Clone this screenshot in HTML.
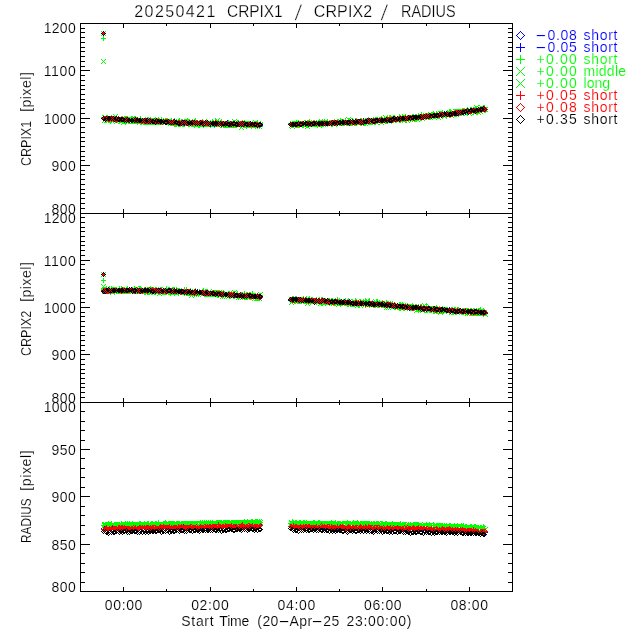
<!DOCTYPE html>
<html lang="en"><head><meta charset="utf-8"><title>20250421 CRPIX1 / CRPIX2 / RADIUS</title>
<style>
html,body{margin:0;padding:0;background:#fff}
body{width:640px;height:640px;position:relative;overflow:hidden;font-family:"Liberation Sans",sans-serif;color:#000}
svg{position:absolute;left:0;top:0;display:block}
.t{position:absolute;white-space:pre;line-height:1;margin:0;padding:0;-webkit-text-stroke:.15px #fff}
.t.r{transform-origin:0 0;transform:rotate(-90deg)}
.t.ra{transform:translateX(-100%)}
.t span{position:absolute;top:0;transform-origin:0 50%}
.t i{font-style:normal;display:inline-block;transform:scaleX(2.5);margin:0 .2em}
</style></head><body>
<svg width="640" height="640" viewBox="0 0 640 640" shape-rendering="crispEdges"><defs><marker id="bd" markerUnits="userSpaceOnUse" markerWidth="5" markerHeight="5" refX="2.5" refY="2.5"><path d="M2 0h1v1h-1zM1 1h1v1h-1zM3 1h1v1h-1zM0 2h1v1h-1zM4 2h1v1h-1zM1 3h1v1h-1zM3 3h1v1h-1zM2 4h1v1h-1z" fill="#0000ff"/></marker><marker id="bp" markerUnits="userSpaceOnUse" markerWidth="5" markerHeight="5" refX="2.5" refY="2.5"><path d="M0 2h5v1h-5zM2 0h1v5h-1z" fill="#0000ff"/></marker><marker id="gp" markerUnits="userSpaceOnUse" markerWidth="5" markerHeight="5" refX="2.5" refY="2.5"><path d="M0 2h5v1h-5zM2 0h1v5h-1z" fill="#00ff00"/></marker><marker id="gx" markerUnits="userSpaceOnUse" markerWidth="5" markerHeight="5" refX="2.5" refY="2.5"><path d="M0 0h1v1h-1zM1 1h1v1h-1zM2 2h1v1h-1zM3 3h1v1h-1zM4 4h1v1h-1zM4 0h1v1h-1zM3 1h1v1h-1zM1 3h1v1h-1zM0 4h1v1h-1z" fill="#00ff00"/></marker><marker id="rp" markerUnits="userSpaceOnUse" markerWidth="5" markerHeight="5" refX="2.5" refY="2.5"><path d="M0 2h5v1h-5zM2 0h1v5h-1z" fill="#ff0000"/></marker><marker id="rd" markerUnits="userSpaceOnUse" markerWidth="5" markerHeight="5" refX="2.5" refY="2.5"><path d="M2 0h1v1h-1zM1 1h1v1h-1zM3 1h1v1h-1zM0 2h1v1h-1zM4 2h1v1h-1zM1 3h1v1h-1zM3 3h1v1h-1zM2 4h1v1h-1z" fill="#ff0000"/></marker><marker id="kd" markerUnits="userSpaceOnUse" markerWidth="5" markerHeight="5" refX="2.5" refY="2.5"><path d="M2 0h1v1h-1zM1 1h1v1h-1zM3 1h1v1h-1zM0 2h1v1h-1zM4 2h1v1h-1zM1 3h1v1h-1zM3 3h1v1h-1zM2 4h1v1h-1z" fill="#000000"/></marker></defs><rect width="640" height="640" fill="#fff"/><g fill="none" stroke="none"><path d="M103.5 33.5 103.5 118.5 105.5 119.5 106.5 118.5 108.5 119.5 109.5 118.5 111.5 119.5 113.5 119.5 114.5 119.5 116.5 119.5 118.5 119.5 119.5 119.5 121.5 119.5 122.5 119.5 124.5 120.5 126.5 120.5 127.5 120.5 129.5 119.5 131.5 119.5 132.5 120.5 134.5 120.5 135.5 120.5 137.5 120.5 139.5 120.5 140.5 120.5 142.5 121.5 144.5 121.5 145.5 120.5 147.5 121.5 148.5 121.5 150.5 121.5 152.5 121.5 153.5 121.5 155.5 121.5 156.5 121.5 158.5 122.5 160.5 121.5 161.5 121.5 163.5 121.5 165.5 121.5 166.5 122.5 168.5 121.5 169.5 122.5 171.5 122.5 173.5 121.5 174.5 122.5 176.5 123.5 178.5 121.5 179.5 122.5 181.5 122.5 182.5 122.5 184.5 123.5 186.5 122.5 187.5 122.5 189.5 123.5 190.5 123.5 192.5 123.5 194.5 123.5 195.5 123.5 197.5 123.5 199.5 122.5 200.5 123.5 202.5 123.5 203.5 123.5 205.5 122.5 207.5 123.5 208.5 123.5 210.5 124.5 212.5 122.5 213.5 123.5 215.5 123.5 216.5 124.5 218.5 124.5 220.5 123.5 221.5 122.5 223.5 124.5 225.5 123.5 226.5 123.5 228.5 124.5 229.5 124.5 231.5 124.5 233.5 124.5 234.5 124.5 236.5 124.5 237.5 124.5 239.5 124.5 241.5 124.5 242.5 123.5 244.5 124.5 246.5 124.5 247.5 124.5 249.5 123.5 250.5 124.5 252.5 124.5 254.5 123.5 255.5 124.5 257.5 125.5 259.5 124.5 260.5 125.5 290.5 124.5 292.5 124.5 293.5 124.5 295.5 124.5 296.5 124.5 298.5 124.5 300.5 123.5 301.5 124.5 303.5 124.5 305.5 124.5 306.5 123.5 308.5 124.5 309.5 124.5 311.5 123.5 313.5 123.5 314.5 123.5 316.5 123.5 318.5 123.5 319.5 124.5 321.5 123.5 322.5 124.5 324.5 122.5 326.5 123.5 327.5 123.5 329.5 123.5 331.5 123.5 332.5 123.5 334.5 123.5 335.5 123.5 337.5 123.5 339.5 122.5 340.5 122.5 342.5 123.5 343.5 122.5 345.5 122.5 347.5 122.5 348.5 123.5 350.5 122.5 352.5 122.5 353.5 122.5 355.5 122.5 356.5 122.5 358.5 121.5 360.5 121.5 361.5 122.5 363.5 120.5 365.5 121.5 366.5 121.5 368.5 121.5 369.5 121.5 371.5 121.5 373.5 121.5 374.5 121.5 376.5 120.5 377.5 121.5 379.5 120.5 381.5 120.5 382.5 120.5 384.5 120.5 386.5 120.5 387.5 119.5 389.5 119.5 390.5 120.5 392.5 119.5 394.5 119.5 395.5 119.5 397.5 119.5 399.5 119.5 400.5 118.5 402.5 118.5 403.5 118.5 405.5 118.5 407.5 118.5 408.5 117.5 410.5 118.5 412.5 117.5 413.5 118.5 415.5 117.5 416.5 117.5 418.5 117.5 420.5 117.5 421.5 117.5 423.5 117.5 424.5 116.5 426.5 116.5 428.5 116.5 429.5 116.5 431.5 115.5 433.5 116.5 434.5 115.5 436.5 115.5 437.5 115.5 439.5 115.5 441.5 115.5 442.5 114.5 444.5 114.5 446.5 113.5 447.5 113.5 449.5 114.5 450.5 113.5 452.5 113.5 454.5 112.5 455.5 113.5 457.5 113.5 458.5 113.5 460.5 112.5 462.5 112.5 463.5 111.5 465.5 112.5 467.5 112.5 468.5 111.5 470.5 111.5 471.5 111.5 473.5 110.5 475.5 109.5 476.5 110.5 478.5 110.5 480.5 109.5 481.5 109.5 483.5 109.5 484.5 109.5" marker-start="url(#bd)" marker-mid="url(#bd)" marker-end="url(#bd)"/><path d="M103.5 274.5 103.5 290.5 105.5 291.5 106.5 291.5 108.5 291.5 109.5 290.5 111.5 290.5 113.5 291.5 114.5 290.5 116.5 290.5 118.5 291.5 119.5 290.5 121.5 289.5 122.5 290.5 124.5 289.5 126.5 290.5 127.5 290.5 129.5 290.5 131.5 290.5 132.5 290.5 134.5 290.5 135.5 291.5 137.5 290.5 139.5 291.5 140.5 291.5 142.5 291.5 144.5 290.5 145.5 291.5 147.5 290.5 148.5 290.5 150.5 290.5 152.5 291.5 153.5 290.5 155.5 291.5 156.5 290.5 158.5 291.5 160.5 290.5 161.5 291.5 163.5 291.5 165.5 291.5 166.5 291.5 168.5 291.5 169.5 291.5 171.5 290.5 173.5 291.5 174.5 291.5 176.5 290.5 178.5 291.5 179.5 291.5 181.5 291.5 182.5 291.5 184.5 292.5 186.5 292.5 187.5 291.5 189.5 291.5 190.5 291.5 192.5 292.5 194.5 292.5 195.5 292.5 197.5 292.5 199.5 292.5 200.5 292.5 202.5 292.5 203.5 293.5 205.5 292.5 207.5 293.5 208.5 293.5 210.5 292.5 212.5 293.5 213.5 293.5 215.5 292.5 216.5 293.5 218.5 294.5 220.5 293.5 221.5 294.5 223.5 294.5 225.5 294.5 226.5 294.5 228.5 295.5 229.5 295.5 231.5 295.5 233.5 294.5 234.5 295.5 236.5 295.5 237.5 295.5 239.5 295.5 241.5 296.5 242.5 294.5 244.5 296.5 246.5 296.5 247.5 295.5 249.5 296.5 250.5 296.5 252.5 296.5 254.5 296.5 255.5 296.5 257.5 296.5 259.5 296.5 260.5 297.5 290.5 300.5 292.5 299.5 293.5 299.5 295.5 299.5 296.5 299.5 298.5 300.5 300.5 300.5 301.5 299.5 303.5 300.5 305.5 301.5 306.5 300.5 308.5 300.5 309.5 299.5 311.5 301.5 313.5 301.5 314.5 301.5 316.5 301.5 318.5 301.5 319.5 301.5 321.5 300.5 322.5 301.5 324.5 301.5 326.5 301.5 327.5 302.5 329.5 302.5 331.5 301.5 332.5 301.5 334.5 302.5 335.5 302.5 337.5 301.5 339.5 301.5 340.5 303.5 342.5 302.5 343.5 301.5 345.5 302.5 347.5 303.5 348.5 303.5 350.5 303.5 352.5 303.5 353.5 302.5 355.5 303.5 356.5 302.5 358.5 302.5 360.5 303.5 361.5 303.5 363.5 303.5 365.5 303.5 366.5 303.5 368.5 303.5 369.5 304.5 371.5 304.5 373.5 303.5 374.5 304.5 376.5 304.5 377.5 303.5 379.5 304.5 381.5 304.5 382.5 304.5 384.5 304.5 386.5 305.5 387.5 305.5 389.5 305.5 390.5 304.5 392.5 305.5 394.5 306.5 395.5 306.5 397.5 306.5 399.5 306.5 400.5 306.5 402.5 305.5 403.5 306.5 405.5 306.5 407.5 307.5 408.5 306.5 410.5 306.5 412.5 307.5 413.5 308.5 415.5 307.5 416.5 307.5 418.5 307.5 420.5 308.5 421.5 308.5 423.5 308.5 424.5 309.5 426.5 309.5 428.5 309.5 429.5 309.5 431.5 309.5 433.5 309.5 434.5 309.5 436.5 309.5 437.5 309.5 439.5 310.5 441.5 309.5 442.5 310.5 444.5 310.5 446.5 310.5 447.5 310.5 449.5 311.5 450.5 311.5 452.5 310.5 454.5 310.5 455.5 312.5 457.5 310.5 458.5 311.5 460.5 311.5 462.5 311.5 463.5 311.5 465.5 311.5 467.5 311.5 468.5 312.5 470.5 312.5 471.5 311.5 473.5 312.5 475.5 312.5 476.5 312.5 478.5 312.5 480.5 312.5 481.5 312.5 483.5 312.5 484.5 312.5" marker-start="url(#bd)" marker-mid="url(#bd)" marker-end="url(#bd)"/><path d="M103.5 528.5 105.5 527.5 106.5 528.5 108.5 527.5 109.5 528.5 111.5 528.5 113.5 528.5 114.5 528.5 116.5 528.5 118.5 527.5 119.5 529.5 121.5 528.5 122.5 528.5 124.5 527.5 126.5 528.5 127.5 527.5 129.5 528.5 131.5 528.5 132.5 526.5 134.5 528.5 135.5 528.5 137.5 526.5 139.5 526.5 140.5 527.5 142.5 527.5 144.5 527.5 145.5 527.5 147.5 527.5 148.5 528.5 150.5 528.5 152.5 528.5 153.5 528.5 155.5 526.5 156.5 527.5 158.5 527.5 160.5 526.5 161.5 527.5 163.5 527.5 165.5 527.5 166.5 526.5 168.5 526.5 169.5 527.5 171.5 527.5 173.5 527.5 174.5 527.5 176.5 526.5 178.5 527.5 179.5 527.5 181.5 527.5 182.5 526.5 184.5 527.5 186.5 525.5 187.5 526.5 189.5 527.5 190.5 526.5 192.5 527.5 194.5 527.5 195.5 526.5 197.5 526.5 199.5 526.5 200.5 527.5 202.5 527.5 203.5 526.5 205.5 526.5 207.5 526.5 208.5 526.5 210.5 527.5 212.5 526.5 213.5 526.5 215.5 525.5 216.5 526.5 218.5 526.5 220.5 525.5 221.5 526.5 223.5 526.5 225.5 526.5 226.5 526.5 228.5 526.5 229.5 527.5 231.5 526.5 233.5 527.5 234.5 526.5 236.5 526.5 237.5 524.5 239.5 525.5 241.5 526.5 242.5 526.5 244.5 527.5 246.5 526.5 247.5 526.5 249.5 526.5 250.5 526.5 252.5 526.5 254.5 525.5 255.5 526.5 257.5 525.5 259.5 526.5 260.5 525.5 290.5 526.5 292.5 527.5 293.5 526.5 295.5 526.5 296.5 527.5 298.5 526.5 300.5 526.5 301.5 526.5 303.5 527.5 305.5 527.5 306.5 526.5 308.5 527.5 309.5 527.5 311.5 526.5 313.5 527.5 314.5 526.5 316.5 527.5 318.5 526.5 319.5 527.5 321.5 526.5 322.5 526.5 324.5 527.5 326.5 527.5 327.5 527.5 329.5 526.5 331.5 527.5 332.5 527.5 334.5 527.5 335.5 528.5 337.5 527.5 339.5 526.5 340.5 528.5 342.5 527.5 343.5 527.5 345.5 526.5 347.5 527.5 348.5 526.5 350.5 528.5 352.5 528.5 353.5 526.5 355.5 526.5 356.5 526.5 358.5 528.5 360.5 527.5 361.5 527.5 363.5 527.5 365.5 527.5 366.5 526.5 368.5 527.5 369.5 526.5 371.5 527.5 373.5 527.5 374.5 527.5 376.5 527.5 377.5 527.5 379.5 527.5 381.5 527.5 382.5 528.5 384.5 528.5 386.5 527.5 387.5 527.5 389.5 527.5 390.5 527.5 392.5 527.5 394.5 528.5 395.5 528.5 397.5 528.5 399.5 529.5 400.5 527.5 402.5 528.5 403.5 530.5 405.5 527.5 407.5 528.5 408.5 528.5 410.5 528.5 412.5 528.5 413.5 528.5 415.5 528.5 416.5 528.5 418.5 529.5 420.5 527.5 421.5 528.5 423.5 528.5 424.5 528.5 426.5 528.5 428.5 529.5 429.5 528.5 431.5 529.5 433.5 529.5 434.5 529.5 436.5 529.5 437.5 529.5 439.5 528.5 441.5 529.5 442.5 529.5 444.5 529.5 446.5 529.5 447.5 530.5 449.5 529.5 450.5 530.5 452.5 530.5 454.5 529.5 455.5 529.5 457.5 529.5 458.5 530.5 460.5 530.5 462.5 530.5 463.5 529.5 465.5 530.5 467.5 530.5 468.5 529.5 470.5 531.5 471.5 531.5 473.5 529.5 475.5 531.5 476.5 531.5 478.5 531.5 480.5 531.5 481.5 530.5 483.5 531.5 484.5 532.5" marker-start="url(#bd)" marker-mid="url(#bd)" marker-end="url(#bd)"/><path d="M103.5 33.5 104.5 118.5 105.5 118.5 107.5 118.5 108.5 118.5 110.5 119.5 112.5 119.5 113.5 119.5 115.5 119.5 116.5 120.5 118.5 119.5 120.5 119.5 121.5 119.5 123.5 120.5 125.5 119.5 126.5 119.5 128.5 120.5 129.5 120.5 131.5 119.5 133.5 120.5 134.5 120.5 136.5 120.5 138.5 120.5 139.5 120.5 141.5 120.5 142.5 121.5 144.5 121.5 146.5 120.5 147.5 121.5 149.5 120.5 150.5 121.5 152.5 121.5 154.5 122.5 155.5 121.5 157.5 121.5 159.5 121.5 160.5 121.5 162.5 121.5 163.5 121.5 165.5 122.5 167.5 121.5 168.5 121.5 170.5 122.5 172.5 122.5 173.5 122.5 175.5 122.5 176.5 122.5 178.5 122.5 180.5 122.5 181.5 122.5 183.5 122.5 185.5 122.5 186.5 123.5 188.5 122.5 189.5 123.5 191.5 122.5 193.5 123.5 194.5 123.5 196.5 122.5 197.5 124.5 199.5 122.5 201.5 123.5 202.5 123.5 204.5 123.5 206.5 122.5 207.5 122.5 209.5 123.5 210.5 123.5 212.5 123.5 214.5 124.5 215.5 123.5 217.5 123.5 219.5 124.5 220.5 123.5 222.5 124.5 223.5 123.5 225.5 123.5 227.5 122.5 228.5 124.5 230.5 123.5 231.5 124.5 233.5 124.5 235.5 124.5 236.5 124.5 238.5 123.5 240.5 123.5 241.5 124.5 243.5 124.5 244.5 124.5 246.5 124.5 248.5 124.5 249.5 124.5 251.5 124.5 253.5 124.5 254.5 124.5 256.5 124.5 257.5 124.5 259.5 125.5 291.5 124.5 292.5 123.5 294.5 124.5 295.5 124.5 297.5 123.5 299.5 124.5 300.5 124.5 302.5 124.5 303.5 124.5 305.5 123.5 307.5 123.5 308.5 124.5 310.5 123.5 312.5 123.5 313.5 123.5 315.5 123.5 316.5 123.5 318.5 123.5 320.5 123.5 321.5 122.5 323.5 123.5 325.5 123.5 326.5 123.5 328.5 123.5 329.5 123.5 331.5 123.5 333.5 122.5 334.5 123.5 336.5 123.5 337.5 122.5 339.5 123.5 341.5 122.5 342.5 122.5 344.5 122.5 346.5 122.5 347.5 122.5 349.5 123.5 350.5 121.5 352.5 121.5 354.5 122.5 355.5 121.5 357.5 122.5 359.5 121.5 360.5 121.5 362.5 121.5 363.5 120.5 365.5 121.5 367.5 120.5 368.5 120.5 370.5 120.5 372.5 120.5 373.5 121.5 375.5 120.5 376.5 120.5 378.5 120.5 380.5 121.5 381.5 120.5 383.5 120.5 384.5 120.5 386.5 120.5 388.5 119.5 389.5 120.5 391.5 120.5 393.5 118.5 394.5 119.5 396.5 119.5 397.5 119.5 399.5 119.5 401.5 118.5 402.5 118.5 404.5 118.5 406.5 118.5 407.5 117.5 409.5 117.5 410.5 118.5 412.5 117.5 414.5 117.5 415.5 117.5 417.5 117.5 418.5 117.5 420.5 116.5 422.5 116.5 423.5 116.5 425.5 116.5 427.5 116.5 428.5 116.5 430.5 116.5 431.5 116.5 433.5 115.5 435.5 115.5 436.5 114.5 438.5 115.5 440.5 114.5 441.5 114.5 443.5 114.5 444.5 113.5 446.5 114.5 448.5 114.5 449.5 113.5 451.5 113.5 453.5 113.5 454.5 112.5 456.5 113.5 457.5 112.5 459.5 112.5 461.5 112.5 462.5 112.5 464.5 111.5 465.5 112.5 467.5 111.5 469.5 111.5 470.5 110.5 472.5 110.5 474.5 111.5 475.5 110.5 477.5 110.5 478.5 109.5 480.5 109.5 482.5 109.5 483.5 109.5 485.5 109.5" marker-start="url(#bp)" marker-mid="url(#bp)" marker-end="url(#bp)"/><path d="M103.5 274.5 104.5 291.5 105.5 290.5 107.5 291.5 108.5 290.5 110.5 290.5 112.5 290.5 113.5 290.5 115.5 290.5 116.5 290.5 118.5 290.5 120.5 290.5 121.5 290.5 123.5 290.5 125.5 290.5 126.5 290.5 128.5 290.5 129.5 290.5 131.5 290.5 133.5 290.5 134.5 290.5 136.5 291.5 138.5 290.5 139.5 290.5 141.5 290.5 142.5 291.5 144.5 290.5 146.5 291.5 147.5 290.5 149.5 291.5 150.5 291.5 152.5 289.5 154.5 290.5 155.5 291.5 157.5 290.5 159.5 290.5 160.5 291.5 162.5 291.5 163.5 290.5 165.5 291.5 167.5 290.5 168.5 291.5 170.5 290.5 172.5 291.5 173.5 291.5 175.5 291.5 176.5 290.5 178.5 290.5 180.5 291.5 181.5 291.5 183.5 291.5 185.5 292.5 186.5 292.5 188.5 292.5 189.5 291.5 191.5 292.5 193.5 292.5 194.5 292.5 196.5 292.5 197.5 291.5 199.5 292.5 201.5 293.5 202.5 293.5 204.5 292.5 206.5 292.5 207.5 293.5 209.5 293.5 210.5 293.5 212.5 293.5 214.5 293.5 215.5 293.5 217.5 293.5 219.5 294.5 220.5 293.5 222.5 293.5 223.5 294.5 225.5 294.5 227.5 294.5 228.5 294.5 230.5 295.5 231.5 294.5 233.5 294.5 235.5 295.5 236.5 295.5 238.5 295.5 240.5 294.5 241.5 295.5 243.5 295.5 244.5 295.5 246.5 295.5 248.5 296.5 249.5 295.5 251.5 295.5 253.5 296.5 254.5 296.5 256.5 296.5 257.5 296.5 259.5 297.5 291.5 299.5 292.5 299.5 294.5 299.5 295.5 300.5 297.5 300.5 299.5 300.5 300.5 299.5 302.5 300.5 303.5 300.5 305.5 299.5 307.5 300.5 308.5 300.5 310.5 300.5 312.5 300.5 313.5 301.5 315.5 301.5 316.5 301.5 318.5 301.5 320.5 301.5 321.5 301.5 323.5 301.5 325.5 301.5 326.5 301.5 328.5 300.5 329.5 301.5 331.5 301.5 333.5 301.5 334.5 301.5 336.5 302.5 337.5 301.5 339.5 302.5 341.5 301.5 342.5 302.5 344.5 301.5 346.5 302.5 347.5 303.5 349.5 301.5 350.5 302.5 352.5 303.5 354.5 302.5 355.5 303.5 357.5 302.5 359.5 303.5 360.5 303.5 362.5 303.5 363.5 303.5 365.5 303.5 367.5 303.5 368.5 303.5 370.5 303.5 372.5 302.5 373.5 303.5 375.5 304.5 376.5 304.5 378.5 303.5 380.5 304.5 381.5 304.5 383.5 304.5 384.5 305.5 386.5 305.5 388.5 304.5 389.5 304.5 391.5 305.5 393.5 306.5 394.5 306.5 396.5 306.5 397.5 305.5 399.5 305.5 401.5 306.5 402.5 306.5 404.5 306.5 406.5 306.5 407.5 308.5 409.5 308.5 410.5 307.5 412.5 307.5 414.5 307.5 415.5 307.5 417.5 308.5 418.5 308.5 420.5 307.5 422.5 308.5 423.5 308.5 425.5 308.5 427.5 308.5 428.5 308.5 430.5 309.5 431.5 308.5 433.5 308.5 435.5 308.5 436.5 309.5 438.5 309.5 440.5 309.5 441.5 309.5 443.5 310.5 444.5 310.5 446.5 309.5 448.5 310.5 449.5 309.5 451.5 310.5 453.5 310.5 454.5 311.5 456.5 310.5 457.5 310.5 459.5 311.5 461.5 311.5 462.5 311.5 464.5 311.5 465.5 311.5 467.5 312.5 469.5 311.5 470.5 311.5 472.5 311.5 474.5 311.5 475.5 312.5 477.5 312.5 478.5 312.5 480.5 312.5 482.5 313.5 483.5 312.5 485.5 313.5" marker-start="url(#bp)" marker-mid="url(#bp)" marker-end="url(#bp)"/><path d="M104.5 527.5 105.5 527.5 107.5 528.5 108.5 529.5 110.5 528.5 112.5 527.5 113.5 527.5 115.5 527.5 116.5 527.5 118.5 529.5 120.5 527.5 121.5 528.5 123.5 529.5 125.5 528.5 126.5 528.5 128.5 527.5 129.5 528.5 131.5 528.5 133.5 528.5 134.5 528.5 136.5 527.5 138.5 528.5 139.5 527.5 141.5 528.5 142.5 528.5 144.5 526.5 146.5 527.5 147.5 527.5 149.5 527.5 150.5 527.5 152.5 528.5 154.5 528.5 155.5 527.5 157.5 527.5 159.5 526.5 160.5 528.5 162.5 527.5 163.5 527.5 165.5 526.5 167.5 527.5 168.5 526.5 170.5 527.5 172.5 527.5 173.5 527.5 175.5 527.5 176.5 526.5 178.5 528.5 180.5 526.5 181.5 526.5 183.5 526.5 185.5 526.5 186.5 526.5 188.5 526.5 189.5 527.5 191.5 526.5 193.5 526.5 194.5 527.5 196.5 527.5 197.5 526.5 199.5 526.5 201.5 526.5 202.5 526.5 204.5 527.5 206.5 526.5 207.5 525.5 209.5 526.5 210.5 526.5 212.5 526.5 214.5 526.5 215.5 526.5 217.5 527.5 219.5 525.5 220.5 525.5 222.5 525.5 223.5 524.5 225.5 525.5 227.5 526.5 228.5 525.5 230.5 525.5 231.5 525.5 233.5 526.5 235.5 525.5 236.5 525.5 238.5 526.5 240.5 526.5 241.5 527.5 243.5 526.5 244.5 526.5 246.5 525.5 248.5 526.5 249.5 526.5 251.5 525.5 253.5 526.5 254.5 525.5 256.5 525.5 257.5 525.5 259.5 525.5 291.5 526.5 292.5 525.5 294.5 527.5 295.5 526.5 297.5 525.5 299.5 527.5 300.5 527.5 302.5 525.5 303.5 527.5 305.5 527.5 307.5 527.5 308.5 525.5 310.5 526.5 312.5 526.5 313.5 526.5 315.5 526.5 316.5 527.5 318.5 525.5 320.5 526.5 321.5 525.5 323.5 526.5 325.5 526.5 326.5 527.5 328.5 527.5 329.5 526.5 331.5 526.5 333.5 526.5 334.5 527.5 336.5 527.5 337.5 527.5 339.5 526.5 341.5 527.5 342.5 526.5 344.5 527.5 346.5 527.5 347.5 526.5 349.5 527.5 350.5 526.5 352.5 527.5 354.5 527.5 355.5 526.5 357.5 527.5 359.5 526.5 360.5 528.5 362.5 526.5 363.5 527.5 365.5 527.5 367.5 527.5 368.5 527.5 370.5 527.5 372.5 527.5 373.5 527.5 375.5 527.5 376.5 525.5 378.5 528.5 380.5 527.5 381.5 526.5 383.5 527.5 384.5 527.5 386.5 528.5 388.5 527.5 389.5 528.5 391.5 527.5 393.5 529.5 394.5 527.5 396.5 528.5 397.5 527.5 399.5 527.5 401.5 528.5 402.5 528.5 404.5 529.5 406.5 528.5 407.5 527.5 409.5 527.5 410.5 527.5 412.5 527.5 414.5 527.5 415.5 528.5 417.5 528.5 418.5 528.5 420.5 528.5 422.5 528.5 423.5 528.5 425.5 529.5 427.5 529.5 428.5 528.5 430.5 527.5 431.5 529.5 433.5 529.5 435.5 529.5 436.5 528.5 438.5 528.5 440.5 529.5 441.5 528.5 443.5 528.5 444.5 529.5 446.5 530.5 448.5 530.5 449.5 528.5 451.5 528.5 453.5 529.5 454.5 530.5 456.5 529.5 457.5 528.5 459.5 530.5 461.5 530.5 462.5 530.5 464.5 529.5 465.5 530.5 467.5 530.5 469.5 530.5 470.5 529.5 472.5 530.5 474.5 531.5 475.5 530.5 477.5 531.5 478.5 530.5 480.5 531.5 482.5 531.5 483.5 531.5 485.5 532.5" marker-start="url(#bp)" marker-mid="url(#bp)" marker-end="url(#bp)"/><path d="M103.5 38.5 103.5 117.5 105.5 119.5 106.5 118.5 108.5 118.5 109.5 118.5 111.5 119.5 113.5 118.5 114.5 118.5 116.5 117.5 118.5 118.5 119.5 119.5 121.5 118.5 122.5 118.5 124.5 118.5 126.5 118.5 127.5 118.5 129.5 119.5 131.5 118.5 132.5 118.5 134.5 118.5 135.5 118.5 137.5 119.5 139.5 120.5 140.5 118.5 142.5 120.5 144.5 120.5 145.5 119.5 147.5 119.5 148.5 119.5 150.5 119.5 152.5 120.5 153.5 120.5 155.5 119.5 156.5 120.5 158.5 119.5 160.5 121.5 161.5 119.5 163.5 120.5 165.5 120.5 166.5 120.5 168.5 121.5 169.5 121.5 171.5 121.5 173.5 121.5 174.5 120.5 176.5 121.5 178.5 121.5 179.5 120.5 181.5 121.5 182.5 121.5 184.5 121.5 186.5 121.5 187.5 120.5 189.5 122.5 190.5 122.5 192.5 122.5 194.5 121.5 195.5 120.5 197.5 122.5 199.5 122.5 200.5 122.5 202.5 122.5 203.5 123.5 205.5 122.5 207.5 122.5 208.5 123.5 210.5 122.5 212.5 121.5 213.5 122.5 215.5 121.5 216.5 122.5 218.5 122.5 220.5 122.5 221.5 121.5 223.5 123.5 225.5 123.5 226.5 123.5 228.5 122.5 229.5 123.5 231.5 124.5 233.5 124.5 234.5 122.5 236.5 123.5 237.5 122.5 239.5 123.5 241.5 123.5 242.5 123.5 244.5 122.5 246.5 123.5 247.5 123.5 249.5 123.5 250.5 123.5 252.5 124.5 254.5 124.5 255.5 123.5 257.5 123.5 259.5 124.5 260.5 123.5 290.5 123.5 292.5 123.5 293.5 123.5 295.5 123.5 296.5 122.5 298.5 122.5 300.5 123.5 301.5 123.5 303.5 124.5 305.5 122.5 306.5 123.5 308.5 123.5 309.5 121.5 311.5 122.5 313.5 122.5 314.5 122.5 316.5 122.5 318.5 122.5 319.5 121.5 321.5 122.5 322.5 121.5 324.5 121.5 326.5 122.5 327.5 121.5 329.5 122.5 331.5 123.5 332.5 122.5 334.5 121.5 335.5 122.5 337.5 121.5 339.5 122.5 340.5 120.5 342.5 121.5 343.5 121.5 345.5 120.5 347.5 122.5 348.5 120.5 350.5 122.5 352.5 121.5 353.5 121.5 355.5 120.5 356.5 121.5 358.5 121.5 360.5 120.5 361.5 120.5 363.5 121.5 365.5 120.5 366.5 120.5 368.5 119.5 369.5 120.5 371.5 120.5 373.5 119.5 374.5 120.5 376.5 119.5 377.5 119.5 379.5 120.5 381.5 118.5 382.5 119.5 384.5 120.5 386.5 118.5 387.5 118.5 389.5 118.5 390.5 117.5 392.5 118.5 394.5 117.5 395.5 118.5 397.5 118.5 399.5 116.5 400.5 117.5 402.5 116.5 403.5 118.5 405.5 116.5 407.5 117.5 408.5 117.5 410.5 117.5 412.5 116.5 413.5 116.5 415.5 116.5 416.5 116.5 418.5 115.5 420.5 116.5 421.5 114.5 423.5 115.5 424.5 116.5 426.5 115.5 428.5 114.5 429.5 115.5 431.5 114.5 433.5 113.5 434.5 114.5 436.5 114.5 437.5 114.5 439.5 113.5 441.5 113.5 442.5 112.5 444.5 114.5 446.5 113.5 447.5 112.5 449.5 111.5 450.5 111.5 452.5 113.5 454.5 111.5 455.5 111.5 457.5 111.5 458.5 111.5 460.5 111.5 462.5 110.5 463.5 110.5 465.5 111.5 467.5 109.5 468.5 110.5 470.5 109.5 471.5 109.5 473.5 109.5 475.5 109.5 476.5 108.5 478.5 109.5 480.5 108.5 481.5 108.5 483.5 108.5 484.5 107.5" marker-start="url(#gp)" marker-mid="url(#gp)" marker-end="url(#gp)"/><path d="M103.5 280.5 103.5 289.5 105.5 289.5 106.5 288.5 108.5 289.5 109.5 288.5 111.5 288.5 113.5 289.5 114.5 289.5 116.5 289.5 118.5 290.5 119.5 288.5 121.5 288.5 122.5 290.5 124.5 289.5 126.5 289.5 127.5 288.5 129.5 289.5 131.5 289.5 132.5 289.5 134.5 289.5 135.5 290.5 137.5 289.5 139.5 288.5 140.5 288.5 142.5 290.5 144.5 289.5 145.5 289.5 147.5 289.5 148.5 289.5 150.5 288.5 152.5 289.5 153.5 289.5 155.5 289.5 156.5 289.5 158.5 289.5 160.5 289.5 161.5 289.5 163.5 290.5 165.5 290.5 166.5 288.5 168.5 289.5 169.5 289.5 171.5 290.5 173.5 289.5 174.5 289.5 176.5 289.5 178.5 290.5 179.5 290.5 181.5 290.5 182.5 291.5 184.5 289.5 186.5 289.5 187.5 291.5 189.5 291.5 190.5 291.5 192.5 291.5 194.5 291.5 195.5 290.5 197.5 292.5 199.5 291.5 200.5 292.5 202.5 291.5 203.5 290.5 205.5 291.5 207.5 292.5 208.5 292.5 210.5 292.5 212.5 292.5 213.5 292.5 215.5 292.5 216.5 292.5 218.5 292.5 220.5 293.5 221.5 292.5 223.5 294.5 225.5 294.5 226.5 294.5 228.5 294.5 229.5 293.5 231.5 293.5 233.5 293.5 234.5 293.5 236.5 294.5 237.5 293.5 239.5 295.5 241.5 294.5 242.5 294.5 244.5 293.5 246.5 294.5 247.5 294.5 249.5 294.5 250.5 294.5 252.5 293.5 254.5 295.5 255.5 295.5 257.5 297.5 259.5 295.5 260.5 295.5 290.5 299.5 292.5 298.5 293.5 298.5 295.5 298.5 296.5 298.5 298.5 299.5 300.5 299.5 301.5 300.5 303.5 298.5 305.5 299.5 306.5 298.5 308.5 300.5 309.5 298.5 311.5 299.5 313.5 300.5 314.5 300.5 316.5 299.5 318.5 300.5 319.5 299.5 321.5 299.5 322.5 299.5 324.5 300.5 326.5 301.5 327.5 300.5 329.5 300.5 331.5 300.5 332.5 302.5 334.5 301.5 335.5 300.5 337.5 299.5 339.5 300.5 340.5 301.5 342.5 302.5 343.5 301.5 345.5 300.5 347.5 301.5 348.5 300.5 350.5 302.5 352.5 301.5 353.5 302.5 355.5 300.5 356.5 301.5 358.5 302.5 360.5 301.5 361.5 302.5 363.5 302.5 365.5 301.5 366.5 302.5 368.5 303.5 369.5 301.5 371.5 303.5 373.5 303.5 374.5 303.5 376.5 301.5 377.5 302.5 379.5 302.5 381.5 303.5 382.5 302.5 384.5 303.5 386.5 302.5 387.5 303.5 389.5 304.5 390.5 303.5 392.5 304.5 394.5 304.5 395.5 305.5 397.5 305.5 399.5 304.5 400.5 304.5 402.5 304.5 403.5 305.5 405.5 305.5 407.5 305.5 408.5 307.5 410.5 306.5 412.5 305.5 413.5 307.5 415.5 307.5 416.5 306.5 418.5 306.5 420.5 306.5 421.5 306.5 423.5 307.5 424.5 307.5 426.5 306.5 428.5 307.5 429.5 308.5 431.5 308.5 433.5 308.5 434.5 309.5 436.5 307.5 437.5 309.5 439.5 308.5 441.5 309.5 442.5 308.5 444.5 309.5 446.5 309.5 447.5 309.5 449.5 310.5 450.5 310.5 452.5 309.5 454.5 309.5 455.5 309.5 457.5 309.5 458.5 309.5 460.5 310.5 462.5 312.5 463.5 310.5 465.5 310.5 467.5 310.5 468.5 310.5 470.5 310.5 471.5 310.5 473.5 310.5 475.5 311.5 476.5 310.5 478.5 311.5 480.5 309.5 481.5 311.5 483.5 311.5 484.5 311.5" marker-start="url(#gp)" marker-mid="url(#gp)" marker-end="url(#gp)"/><path d="M103.5 525.5 105.5 524.5 106.5 524.5 108.5 523.5 109.5 524.5 111.5 523.5 113.5 525.5 114.5 524.5 116.5 524.5 118.5 524.5 119.5 524.5 121.5 525.5 122.5 525.5 124.5 524.5 126.5 525.5 127.5 523.5 129.5 523.5 131.5 524.5 132.5 523.5 134.5 524.5 135.5 524.5 137.5 525.5 139.5 523.5 140.5 524.5 142.5 524.5 144.5 524.5 145.5 524.5 147.5 525.5 148.5 523.5 150.5 524.5 152.5 523.5 153.5 524.5 155.5 523.5 156.5 523.5 158.5 522.5 160.5 524.5 161.5 524.5 163.5 523.5 165.5 522.5 166.5 523.5 168.5 523.5 169.5 523.5 171.5 523.5 173.5 524.5 174.5 524.5 176.5 523.5 178.5 523.5 179.5 523.5 181.5 523.5 182.5 523.5 184.5 523.5 186.5 523.5 187.5 523.5 189.5 523.5 190.5 523.5 192.5 524.5 194.5 523.5 195.5 523.5 197.5 524.5 199.5 524.5 200.5 522.5 202.5 523.5 203.5 523.5 205.5 524.5 207.5 523.5 208.5 523.5 210.5 522.5 212.5 522.5 213.5 523.5 215.5 523.5 216.5 522.5 218.5 522.5 220.5 522.5 221.5 522.5 223.5 523.5 225.5 522.5 226.5 522.5 228.5 523.5 229.5 523.5 231.5 522.5 233.5 523.5 234.5 522.5 236.5 522.5 237.5 522.5 239.5 522.5 241.5 522.5 242.5 523.5 244.5 521.5 246.5 523.5 247.5 523.5 249.5 523.5 250.5 523.5 252.5 522.5 254.5 522.5 255.5 521.5 257.5 521.5 259.5 522.5 260.5 522.5 290.5 523.5 292.5 521.5 293.5 524.5 295.5 524.5 296.5 522.5 298.5 523.5 300.5 523.5 301.5 523.5 303.5 522.5 305.5 523.5 306.5 522.5 308.5 523.5 309.5 523.5 311.5 523.5 313.5 522.5 314.5 523.5 316.5 523.5 318.5 523.5 319.5 522.5 321.5 523.5 322.5 523.5 324.5 523.5 326.5 523.5 327.5 523.5 329.5 523.5 331.5 523.5 332.5 524.5 334.5 523.5 335.5 523.5 337.5 523.5 339.5 523.5 340.5 523.5 342.5 523.5 343.5 523.5 345.5 523.5 347.5 522.5 348.5 523.5 350.5 523.5 352.5 523.5 353.5 523.5 355.5 523.5 356.5 523.5 358.5 523.5 360.5 523.5 361.5 523.5 363.5 524.5 365.5 523.5 366.5 524.5 368.5 523.5 369.5 523.5 371.5 523.5 373.5 524.5 374.5 523.5 376.5 524.5 377.5 523.5 379.5 524.5 381.5 525.5 382.5 523.5 384.5 524.5 386.5 523.5 387.5 524.5 389.5 524.5 390.5 524.5 392.5 523.5 394.5 524.5 395.5 525.5 397.5 525.5 399.5 525.5 400.5 523.5 402.5 524.5 403.5 525.5 405.5 524.5 407.5 525.5 408.5 525.5 410.5 525.5 412.5 525.5 413.5 524.5 415.5 524.5 416.5 524.5 418.5 524.5 420.5 525.5 421.5 525.5 423.5 525.5 424.5 525.5 426.5 525.5 428.5 525.5 429.5 526.5 431.5 525.5 433.5 525.5 434.5 525.5 436.5 525.5 437.5 526.5 439.5 525.5 441.5 525.5 442.5 525.5 444.5 525.5 446.5 525.5 447.5 526.5 449.5 525.5 450.5 526.5 452.5 526.5 454.5 525.5 455.5 526.5 457.5 526.5 458.5 526.5 460.5 526.5 462.5 526.5 463.5 525.5 465.5 526.5 467.5 527.5 468.5 527.5 470.5 527.5 471.5 526.5 473.5 527.5 475.5 526.5 476.5 527.5 478.5 527.5 480.5 528.5 481.5 527.5 483.5 526.5 484.5 528.5" marker-start="url(#gp)" marker-mid="url(#gp)" marker-end="url(#gp)"/><path d="M103.5 33.5 104.5 120.5 105.5 119.5 107.5 120.5 108.5 120.5 110.5 118.5 112.5 121.5 113.5 120.5 115.5 119.5 116.5 121.5 118.5 119.5 120.5 121.5 121.5 121.5 123.5 122.5 125.5 120.5 126.5 121.5 128.5 121.5 129.5 120.5 131.5 120.5 133.5 121.5 134.5 121.5 136.5 120.5 138.5 121.5 139.5 122.5 141.5 121.5 142.5 122.5 144.5 121.5 146.5 122.5 147.5 121.5 149.5 122.5 150.5 121.5 152.5 122.5 154.5 122.5 155.5 122.5 157.5 122.5 159.5 122.5 160.5 122.5 162.5 121.5 163.5 122.5 165.5 122.5 167.5 122.5 168.5 122.5 170.5 123.5 172.5 123.5 173.5 123.5 175.5 123.5 176.5 124.5 178.5 124.5 180.5 124.5 181.5 124.5 183.5 123.5 185.5 123.5 186.5 124.5 188.5 123.5 189.5 123.5 191.5 124.5 193.5 124.5 194.5 124.5 196.5 124.5 197.5 124.5 199.5 124.5 201.5 125.5 202.5 124.5 204.5 124.5 206.5 123.5 207.5 123.5 209.5 124.5 210.5 124.5 212.5 125.5 214.5 124.5 215.5 124.5 217.5 124.5 219.5 124.5 220.5 124.5 222.5 125.5 223.5 125.5 225.5 125.5 227.5 124.5 228.5 125.5 230.5 125.5 231.5 125.5 233.5 125.5 235.5 124.5 236.5 124.5 238.5 125.5 240.5 124.5 241.5 127.5 243.5 125.5 244.5 126.5 246.5 125.5 248.5 125.5 249.5 125.5 251.5 125.5 253.5 126.5 254.5 125.5 256.5 124.5 257.5 126.5 259.5 126.5 291.5 125.5 292.5 126.5 294.5 125.5 295.5 125.5 297.5 125.5 299.5 124.5 300.5 125.5 302.5 124.5 303.5 124.5 305.5 125.5 307.5 124.5 308.5 124.5 310.5 123.5 312.5 124.5 313.5 124.5 315.5 124.5 316.5 123.5 318.5 124.5 320.5 124.5 321.5 124.5 323.5 124.5 325.5 124.5 326.5 123.5 328.5 122.5 329.5 124.5 331.5 123.5 333.5 123.5 334.5 124.5 336.5 122.5 337.5 123.5 339.5 123.5 341.5 123.5 342.5 123.5 344.5 123.5 346.5 123.5 347.5 122.5 349.5 123.5 350.5 122.5 352.5 123.5 354.5 123.5 355.5 121.5 357.5 122.5 359.5 122.5 360.5 122.5 362.5 123.5 363.5 123.5 365.5 123.5 367.5 122.5 368.5 122.5 370.5 122.5 372.5 121.5 373.5 122.5 375.5 121.5 376.5 122.5 378.5 121.5 380.5 120.5 381.5 122.5 383.5 121.5 384.5 121.5 386.5 120.5 388.5 120.5 389.5 121.5 391.5 120.5 393.5 118.5 394.5 120.5 396.5 119.5 397.5 120.5 399.5 119.5 401.5 119.5 402.5 119.5 404.5 120.5 406.5 118.5 407.5 120.5 409.5 118.5 410.5 118.5 412.5 119.5 414.5 119.5 415.5 118.5 417.5 119.5 418.5 117.5 420.5 117.5 422.5 118.5 423.5 117.5 425.5 116.5 427.5 117.5 428.5 117.5 430.5 117.5 431.5 115.5 433.5 116.5 435.5 116.5 436.5 116.5 438.5 117.5 440.5 115.5 441.5 115.5 443.5 115.5 444.5 116.5 446.5 114.5 448.5 115.5 449.5 113.5 451.5 115.5 453.5 114.5 454.5 114.5 456.5 114.5 457.5 113.5 459.5 113.5 461.5 113.5 462.5 113.5 464.5 112.5 465.5 112.5 467.5 111.5 469.5 113.5 470.5 112.5 472.5 111.5 474.5 110.5 475.5 112.5 477.5 110.5 478.5 112.5 480.5 111.5 482.5 110.5 483.5 110.5 485.5 109.5" marker-start="url(#gx)" marker-mid="url(#gx)" marker-end="url(#gx)"/><path d="M103.5 274.5 104.5 291.5 105.5 291.5 107.5 291.5 108.5 291.5 110.5 291.5 112.5 292.5 113.5 289.5 115.5 291.5 116.5 291.5 118.5 291.5 120.5 291.5 121.5 291.5 123.5 291.5 125.5 291.5 126.5 291.5 128.5 291.5 129.5 290.5 131.5 291.5 133.5 290.5 134.5 290.5 136.5 291.5 138.5 291.5 139.5 291.5 141.5 291.5 142.5 291.5 144.5 291.5 146.5 292.5 147.5 292.5 149.5 292.5 150.5 292.5 152.5 291.5 154.5 291.5 155.5 291.5 157.5 292.5 159.5 293.5 160.5 292.5 162.5 290.5 163.5 291.5 165.5 291.5 167.5 292.5 168.5 292.5 170.5 292.5 172.5 293.5 173.5 291.5 175.5 291.5 176.5 293.5 178.5 292.5 180.5 292.5 181.5 291.5 183.5 291.5 185.5 291.5 186.5 293.5 188.5 293.5 189.5 293.5 191.5 293.5 193.5 292.5 194.5 293.5 196.5 294.5 197.5 292.5 199.5 293.5 201.5 293.5 202.5 294.5 204.5 293.5 206.5 294.5 207.5 294.5 209.5 294.5 210.5 294.5 212.5 294.5 214.5 294.5 215.5 294.5 217.5 294.5 219.5 295.5 220.5 295.5 222.5 296.5 223.5 295.5 225.5 295.5 227.5 295.5 228.5 296.5 230.5 295.5 231.5 296.5 233.5 295.5 235.5 295.5 236.5 296.5 238.5 297.5 240.5 296.5 241.5 296.5 243.5 296.5 244.5 296.5 246.5 295.5 248.5 297.5 249.5 297.5 251.5 296.5 253.5 296.5 254.5 298.5 256.5 296.5 257.5 298.5 259.5 298.5 291.5 302.5 292.5 300.5 294.5 300.5 295.5 300.5 297.5 301.5 299.5 301.5 300.5 300.5 302.5 301.5 303.5 300.5 305.5 301.5 307.5 301.5 308.5 301.5 310.5 301.5 312.5 302.5 313.5 301.5 315.5 301.5 316.5 301.5 318.5 302.5 320.5 303.5 321.5 301.5 323.5 303.5 325.5 302.5 326.5 302.5 328.5 302.5 329.5 302.5 331.5 303.5 333.5 303.5 334.5 302.5 336.5 303.5 337.5 303.5 339.5 303.5 341.5 302.5 342.5 303.5 344.5 303.5 346.5 303.5 347.5 303.5 349.5 304.5 350.5 304.5 352.5 304.5 354.5 303.5 355.5 304.5 357.5 305.5 359.5 303.5 360.5 305.5 362.5 303.5 363.5 304.5 365.5 304.5 367.5 305.5 368.5 304.5 370.5 304.5 372.5 304.5 373.5 304.5 375.5 305.5 376.5 305.5 378.5 304.5 380.5 305.5 381.5 305.5 383.5 305.5 384.5 305.5 386.5 307.5 388.5 307.5 389.5 306.5 391.5 305.5 393.5 306.5 394.5 306.5 396.5 307.5 397.5 307.5 399.5 307.5 401.5 308.5 402.5 308.5 404.5 307.5 406.5 307.5 407.5 307.5 409.5 308.5 410.5 307.5 412.5 308.5 414.5 308.5 415.5 308.5 417.5 309.5 418.5 309.5 420.5 309.5 422.5 310.5 423.5 308.5 425.5 309.5 427.5 310.5 428.5 310.5 430.5 309.5 431.5 310.5 433.5 310.5 435.5 311.5 436.5 311.5 438.5 311.5 440.5 312.5 441.5 311.5 443.5 310.5 444.5 311.5 446.5 310.5 448.5 311.5 449.5 310.5 451.5 311.5 453.5 312.5 454.5 312.5 456.5 311.5 457.5 312.5 459.5 311.5 461.5 312.5 462.5 311.5 464.5 312.5 465.5 312.5 467.5 313.5 469.5 313.5 470.5 312.5 472.5 313.5 474.5 313.5 475.5 313.5 477.5 313.5 478.5 313.5 480.5 313.5 482.5 312.5 483.5 313.5 485.5 314.5" marker-start="url(#gx)" marker-mid="url(#gx)" marker-end="url(#gx)"/><path d="M104.5 525.5 105.5 524.5 107.5 524.5 108.5 524.5 110.5 525.5 112.5 525.5 113.5 524.5 115.5 525.5 116.5 524.5 118.5 525.5 120.5 524.5 121.5 524.5 123.5 524.5 125.5 525.5 126.5 524.5 128.5 524.5 129.5 525.5 131.5 524.5 133.5 524.5 134.5 525.5 136.5 525.5 138.5 525.5 139.5 524.5 141.5 525.5 142.5 523.5 144.5 524.5 146.5 524.5 147.5 525.5 149.5 523.5 150.5 524.5 152.5 524.5 154.5 523.5 155.5 524.5 157.5 524.5 159.5 524.5 160.5 524.5 162.5 524.5 163.5 524.5 165.5 524.5 167.5 524.5 168.5 523.5 170.5 524.5 172.5 523.5 173.5 524.5 175.5 523.5 176.5 524.5 178.5 524.5 180.5 523.5 181.5 524.5 183.5 523.5 185.5 524.5 186.5 524.5 188.5 524.5 189.5 523.5 191.5 524.5 193.5 524.5 194.5 523.5 196.5 523.5 197.5 523.5 199.5 523.5 201.5 524.5 202.5 523.5 204.5 522.5 206.5 522.5 207.5 523.5 209.5 523.5 210.5 523.5 212.5 523.5 214.5 524.5 215.5 523.5 217.5 523.5 219.5 522.5 220.5 523.5 222.5 523.5 223.5 523.5 225.5 522.5 227.5 523.5 228.5 523.5 230.5 523.5 231.5 522.5 233.5 522.5 235.5 523.5 236.5 523.5 238.5 522.5 240.5 522.5 241.5 523.5 243.5 522.5 244.5 523.5 246.5 522.5 248.5 522.5 249.5 521.5 251.5 522.5 253.5 522.5 254.5 521.5 256.5 523.5 257.5 521.5 259.5 521.5 291.5 523.5 292.5 523.5 294.5 523.5 295.5 523.5 297.5 523.5 299.5 523.5 300.5 523.5 302.5 522.5 303.5 523.5 305.5 523.5 307.5 523.5 308.5 523.5 310.5 523.5 312.5 523.5 313.5 523.5 315.5 524.5 316.5 522.5 318.5 523.5 320.5 523.5 321.5 523.5 323.5 524.5 325.5 523.5 326.5 523.5 328.5 523.5 329.5 524.5 331.5 523.5 333.5 522.5 334.5 524.5 336.5 523.5 337.5 523.5 339.5 524.5 341.5 523.5 342.5 523.5 344.5 523.5 346.5 524.5 347.5 523.5 349.5 524.5 350.5 525.5 352.5 523.5 354.5 525.5 355.5 522.5 357.5 524.5 359.5 523.5 360.5 524.5 362.5 523.5 363.5 523.5 365.5 523.5 367.5 524.5 368.5 524.5 370.5 524.5 372.5 524.5 373.5 524.5 375.5 523.5 376.5 523.5 378.5 525.5 380.5 524.5 381.5 524.5 383.5 524.5 384.5 523.5 386.5 525.5 388.5 525.5 389.5 524.5 391.5 525.5 393.5 524.5 394.5 525.5 396.5 524.5 397.5 524.5 399.5 525.5 401.5 525.5 402.5 525.5 404.5 524.5 406.5 525.5 407.5 525.5 409.5 525.5 410.5 525.5 412.5 524.5 414.5 525.5 415.5 524.5 417.5 525.5 418.5 525.5 420.5 526.5 422.5 525.5 423.5 525.5 425.5 525.5 427.5 525.5 428.5 525.5 430.5 525.5 431.5 524.5 433.5 526.5 435.5 525.5 436.5 525.5 438.5 525.5 440.5 525.5 441.5 526.5 443.5 526.5 444.5 526.5 446.5 526.5 448.5 525.5 449.5 526.5 451.5 527.5 453.5 526.5 454.5 526.5 456.5 526.5 457.5 526.5 459.5 526.5 461.5 526.5 462.5 527.5 464.5 527.5 465.5 527.5 467.5 527.5 469.5 527.5 470.5 527.5 472.5 526.5 474.5 528.5 475.5 527.5 477.5 528.5 478.5 527.5 480.5 529.5 482.5 527.5 483.5 528.5 485.5 529.5" marker-start="url(#gx)" marker-mid="url(#gx)" marker-end="url(#gx)"/><path d="M103.5 61.5 104.5 117.5 106.5 120.5 107.5 118.5 109.5 117.5 110.5 119.5 112.5 119.5 114.5 119.5 115.5 116.5 117.5 119.5 119.5 119.5 120.5 119.5 122.5 119.5 123.5 118.5 125.5 119.5 127.5 121.5 128.5 121.5 130.5 119.5 132.5 119.5 133.5 120.5 135.5 121.5 136.5 121.5 138.5 119.5 140.5 120.5 141.5 120.5 143.5 122.5 145.5 122.5 146.5 121.5 148.5 122.5 149.5 120.5 151.5 122.5 153.5 120.5 154.5 121.5 156.5 122.5 157.5 120.5 159.5 120.5 161.5 120.5 162.5 121.5 164.5 121.5 166.5 121.5 167.5 122.5 169.5 120.5 170.5 122.5 172.5 122.5 174.5 122.5 175.5 123.5 177.5 124.5 179.5 122.5 180.5 121.5 182.5 122.5 183.5 122.5 185.5 123.5 187.5 121.5 188.5 123.5 190.5 121.5 191.5 123.5 193.5 123.5 195.5 123.5 196.5 125.5 198.5 122.5 200.5 123.5 201.5 123.5 203.5 124.5 204.5 121.5 206.5 123.5 208.5 122.5 209.5 124.5 211.5 124.5 213.5 123.5 214.5 123.5 216.5 123.5 217.5 120.5 219.5 124.5 221.5 124.5 222.5 123.5 224.5 123.5 226.5 123.5 227.5 123.5 229.5 125.5 230.5 123.5 232.5 125.5 234.5 121.5 235.5 123.5 237.5 124.5 238.5 124.5 240.5 122.5 242.5 123.5 243.5 125.5 245.5 123.5 247.5 123.5 248.5 123.5 250.5 123.5 251.5 125.5 253.5 125.5 255.5 122.5 256.5 125.5 258.5 123.5 260.5 124.5 291.5 125.5 293.5 124.5 294.5 123.5 296.5 123.5 297.5 123.5 299.5 123.5 301.5 123.5 302.5 124.5 304.5 124.5 306.5 122.5 307.5 126.5 309.5 122.5 310.5 123.5 312.5 123.5 314.5 124.5 315.5 123.5 317.5 123.5 319.5 125.5 320.5 123.5 322.5 122.5 323.5 123.5 325.5 122.5 327.5 122.5 328.5 123.5 330.5 123.5 332.5 122.5 333.5 123.5 335.5 122.5 336.5 121.5 338.5 123.5 340.5 122.5 341.5 123.5 343.5 121.5 344.5 123.5 346.5 122.5 348.5 119.5 349.5 120.5 351.5 121.5 353.5 123.5 354.5 120.5 356.5 122.5 357.5 122.5 359.5 122.5 361.5 122.5 362.5 121.5 364.5 121.5 366.5 121.5 367.5 121.5 369.5 121.5 370.5 120.5 372.5 120.5 374.5 120.5 375.5 121.5 377.5 119.5 378.5 119.5 380.5 120.5 382.5 119.5 383.5 119.5 385.5 117.5 387.5 119.5 388.5 119.5 390.5 120.5 391.5 117.5 393.5 119.5 395.5 119.5 396.5 119.5 398.5 120.5 400.5 119.5 401.5 117.5 403.5 119.5 404.5 118.5 406.5 117.5 408.5 119.5 409.5 117.5 411.5 117.5 413.5 117.5 414.5 116.5 416.5 118.5 417.5 117.5 419.5 118.5 421.5 117.5 422.5 116.5 424.5 117.5 425.5 115.5 427.5 115.5 429.5 115.5 430.5 115.5 432.5 116.5 434.5 114.5 435.5 115.5 437.5 115.5 438.5 113.5 440.5 113.5 442.5 114.5 443.5 114.5 445.5 114.5 447.5 114.5 448.5 113.5 450.5 113.5 451.5 113.5 453.5 112.5 455.5 111.5 456.5 112.5 458.5 111.5 459.5 112.5 461.5 111.5 463.5 111.5 464.5 111.5 466.5 110.5 468.5 110.5 469.5 109.5 471.5 111.5 472.5 109.5 474.5 110.5 476.5 107.5 477.5 109.5 479.5 110.5 481.5 107.5 482.5 109.5 484.5 109.5" marker-start="url(#gx)" marker-mid="url(#gx)" marker-end="url(#gx)"/><path d="M103.5 286.5 104.5 290.5 106.5 289.5 107.5 290.5 109.5 290.5 110.5 289.5 112.5 291.5 114.5 290.5 115.5 290.5 117.5 290.5 119.5 290.5 120.5 290.5 122.5 291.5 123.5 290.5 125.5 289.5 127.5 290.5 128.5 291.5 130.5 290.5 132.5 290.5 133.5 290.5 135.5 290.5 136.5 288.5 138.5 290.5 140.5 290.5 141.5 290.5 143.5 289.5 145.5 291.5 146.5 290.5 148.5 290.5 149.5 290.5 151.5 291.5 153.5 289.5 154.5 289.5 156.5 292.5 157.5 292.5 159.5 291.5 161.5 292.5 162.5 291.5 164.5 289.5 166.5 292.5 167.5 292.5 169.5 291.5 170.5 289.5 172.5 292.5 174.5 292.5 175.5 290.5 177.5 291.5 179.5 292.5 180.5 291.5 182.5 292.5 183.5 291.5 185.5 292.5 187.5 291.5 188.5 290.5 190.5 291.5 191.5 295.5 193.5 292.5 195.5 293.5 196.5 293.5 198.5 294.5 200.5 293.5 201.5 292.5 203.5 292.5 204.5 291.5 206.5 292.5 208.5 294.5 209.5 291.5 211.5 293.5 213.5 294.5 214.5 294.5 216.5 292.5 217.5 293.5 219.5 292.5 221.5 292.5 222.5 294.5 224.5 296.5 226.5 293.5 227.5 295.5 229.5 294.5 230.5 294.5 232.5 296.5 234.5 292.5 235.5 294.5 237.5 295.5 238.5 297.5 240.5 297.5 242.5 297.5 243.5 295.5 245.5 296.5 247.5 297.5 248.5 296.5 250.5 296.5 251.5 295.5 253.5 295.5 255.5 295.5 256.5 298.5 258.5 296.5 260.5 294.5 291.5 299.5 293.5 299.5 294.5 299.5 296.5 301.5 297.5 299.5 299.5 299.5 301.5 299.5 302.5 300.5 304.5 299.5 306.5 300.5 307.5 303.5 309.5 300.5 310.5 299.5 312.5 302.5 314.5 301.5 315.5 301.5 317.5 301.5 319.5 301.5 320.5 301.5 322.5 302.5 323.5 302.5 325.5 302.5 327.5 300.5 328.5 301.5 330.5 300.5 332.5 302.5 333.5 302.5 335.5 301.5 336.5 302.5 338.5 304.5 340.5 303.5 341.5 301.5 343.5 302.5 344.5 302.5 346.5 302.5 348.5 302.5 349.5 303.5 351.5 303.5 353.5 301.5 354.5 303.5 356.5 302.5 357.5 303.5 359.5 302.5 361.5 301.5 362.5 302.5 364.5 303.5 366.5 302.5 367.5 300.5 369.5 304.5 370.5 302.5 372.5 303.5 374.5 304.5 375.5 301.5 377.5 305.5 378.5 303.5 380.5 304.5 382.5 303.5 383.5 304.5 385.5 304.5 387.5 304.5 388.5 303.5 390.5 303.5 391.5 305.5 393.5 306.5 395.5 305.5 396.5 306.5 398.5 306.5 400.5 306.5 401.5 307.5 403.5 305.5 404.5 306.5 406.5 306.5 408.5 306.5 409.5 306.5 411.5 306.5 413.5 306.5 414.5 306.5 416.5 310.5 417.5 309.5 419.5 308.5 421.5 309.5 422.5 307.5 424.5 305.5 425.5 306.5 427.5 308.5 429.5 310.5 430.5 308.5 432.5 308.5 434.5 309.5 435.5 308.5 437.5 308.5 438.5 309.5 440.5 309.5 442.5 309.5 443.5 309.5 445.5 309.5 447.5 310.5 448.5 311.5 450.5 310.5 451.5 312.5 453.5 309.5 455.5 311.5 456.5 309.5 458.5 310.5 459.5 311.5 461.5 311.5 463.5 312.5 464.5 310.5 466.5 310.5 468.5 311.5 469.5 311.5 471.5 311.5 472.5 312.5 474.5 313.5 476.5 310.5 477.5 312.5 479.5 313.5 481.5 310.5 482.5 312.5 484.5 312.5" marker-start="url(#gx)" marker-mid="url(#gx)" marker-end="url(#gx)"/><path d="M104.5 524.5 106.5 526.5 107.5 525.5 109.5 525.5 110.5 525.5 112.5 525.5 114.5 525.5 115.5 525.5 117.5 525.5 119.5 524.5 120.5 524.5 122.5 525.5 123.5 523.5 125.5 526.5 127.5 524.5 128.5 524.5 130.5 524.5 132.5 525.5 133.5 524.5 135.5 524.5 136.5 524.5 138.5 524.5 140.5 524.5 141.5 524.5 143.5 524.5 145.5 525.5 146.5 524.5 148.5 524.5 149.5 524.5 151.5 525.5 153.5 524.5 154.5 524.5 156.5 524.5 157.5 524.5 159.5 524.5 161.5 524.5 162.5 524.5 164.5 524.5 166.5 523.5 167.5 523.5 169.5 524.5 170.5 524.5 172.5 524.5 174.5 523.5 175.5 524.5 177.5 524.5 179.5 523.5 180.5 524.5 182.5 524.5 183.5 523.5 185.5 523.5 187.5 524.5 188.5 524.5 190.5 523.5 191.5 523.5 193.5 524.5 195.5 524.5 196.5 523.5 198.5 524.5 200.5 523.5 201.5 523.5 203.5 524.5 204.5 523.5 206.5 523.5 208.5 523.5 209.5 523.5 211.5 523.5 213.5 523.5 214.5 524.5 216.5 523.5 217.5 524.5 219.5 523.5 221.5 522.5 222.5 523.5 224.5 523.5 226.5 522.5 227.5 522.5 229.5 523.5 230.5 522.5 232.5 523.5 234.5 522.5 235.5 523.5 237.5 522.5 238.5 522.5 240.5 522.5 242.5 523.5 243.5 522.5 245.5 522.5 247.5 523.5 248.5 522.5 250.5 523.5 251.5 523.5 253.5 523.5 255.5 523.5 256.5 523.5 258.5 523.5 260.5 522.5 291.5 522.5 293.5 524.5 294.5 523.5 296.5 523.5 297.5 522.5 299.5 524.5 301.5 523.5 302.5 523.5 304.5 524.5 306.5 524.5 307.5 523.5 309.5 523.5 310.5 523.5 312.5 523.5 314.5 524.5 315.5 525.5 317.5 523.5 319.5 523.5 320.5 524.5 322.5 523.5 323.5 524.5 325.5 524.5 327.5 523.5 328.5 523.5 330.5 523.5 332.5 524.5 333.5 524.5 335.5 524.5 336.5 523.5 338.5 524.5 340.5 523.5 341.5 524.5 343.5 524.5 344.5 523.5 346.5 524.5 348.5 523.5 349.5 524.5 351.5 523.5 353.5 524.5 354.5 524.5 356.5 524.5 357.5 524.5 359.5 524.5 361.5 524.5 362.5 524.5 364.5 523.5 366.5 524.5 367.5 524.5 369.5 524.5 370.5 524.5 372.5 525.5 374.5 524.5 375.5 525.5 377.5 524.5 378.5 523.5 380.5 523.5 382.5 525.5 383.5 523.5 385.5 525.5 387.5 525.5 388.5 525.5 390.5 524.5 391.5 524.5 393.5 525.5 395.5 524.5 396.5 524.5 398.5 524.5 400.5 525.5 401.5 524.5 403.5 525.5 404.5 524.5 406.5 524.5 408.5 524.5 409.5 525.5 411.5 525.5 413.5 525.5 414.5 525.5 416.5 525.5 417.5 525.5 419.5 525.5 421.5 525.5 422.5 526.5 424.5 524.5 425.5 525.5 427.5 526.5 429.5 525.5 430.5 527.5 432.5 525.5 434.5 525.5 435.5 526.5 437.5 526.5 438.5 527.5 440.5 526.5 442.5 526.5 443.5 526.5 445.5 526.5 447.5 526.5 448.5 526.5 450.5 526.5 451.5 527.5 453.5 526.5 455.5 526.5 456.5 526.5 458.5 527.5 459.5 525.5 461.5 526.5 463.5 527.5 464.5 526.5 466.5 527.5 468.5 527.5 469.5 528.5 471.5 528.5 472.5 528.5 474.5 527.5 476.5 527.5 477.5 528.5 479.5 528.5 481.5 528.5 482.5 528.5 484.5 530.5" marker-start="url(#gx)" marker-mid="url(#gx)" marker-end="url(#gx)"/><path d="M103.5 33.5 103.5 118.5 105.5 119.5 106.5 118.5 108.5 118.5 109.5 119.5 111.5 119.5 113.5 118.5 114.5 119.5 116.5 119.5 118.5 118.5 119.5 119.5 121.5 119.5 122.5 119.5 124.5 120.5 126.5 120.5 127.5 119.5 129.5 120.5 131.5 120.5 132.5 120.5 134.5 120.5 135.5 120.5 137.5 119.5 139.5 120.5 140.5 120.5 142.5 121.5 144.5 120.5 145.5 120.5 147.5 120.5 148.5 121.5 150.5 121.5 152.5 121.5 153.5 121.5 155.5 122.5 156.5 121.5 158.5 121.5 160.5 121.5 161.5 121.5 163.5 121.5 165.5 121.5 166.5 121.5 168.5 121.5 169.5 122.5 171.5 122.5 173.5 122.5 174.5 122.5 176.5 122.5 178.5 122.5 179.5 122.5 181.5 123.5 182.5 122.5 184.5 122.5 186.5 123.5 187.5 123.5 189.5 122.5 190.5 123.5 192.5 123.5 194.5 122.5 195.5 123.5 197.5 123.5 199.5 123.5 200.5 123.5 202.5 122.5 203.5 123.5 205.5 123.5 207.5 123.5 208.5 123.5 210.5 123.5 212.5 123.5 213.5 123.5 215.5 123.5 216.5 124.5 218.5 123.5 220.5 123.5 221.5 123.5 223.5 124.5 225.5 123.5 226.5 123.5 228.5 124.5 229.5 124.5 231.5 123.5 233.5 124.5 234.5 123.5 236.5 123.5 237.5 124.5 239.5 124.5 241.5 124.5 242.5 124.5 244.5 124.5 246.5 124.5 247.5 124.5 249.5 124.5 250.5 124.5 252.5 124.5 254.5 124.5 255.5 124.5 257.5 124.5 259.5 124.5 260.5 124.5 290.5 124.5 292.5 124.5 293.5 124.5 295.5 124.5 296.5 124.5 298.5 123.5 300.5 123.5 301.5 124.5 303.5 123.5 305.5 124.5 306.5 123.5 308.5 123.5 309.5 123.5 311.5 124.5 313.5 123.5 314.5 123.5 316.5 123.5 318.5 123.5 319.5 124.5 321.5 123.5 322.5 123.5 324.5 123.5 326.5 123.5 327.5 123.5 329.5 123.5 331.5 122.5 332.5 123.5 334.5 123.5 335.5 123.5 337.5 122.5 339.5 122.5 340.5 122.5 342.5 121.5 343.5 122.5 345.5 122.5 347.5 122.5 348.5 122.5 350.5 122.5 352.5 121.5 353.5 122.5 355.5 122.5 356.5 121.5 358.5 121.5 360.5 122.5 361.5 121.5 363.5 121.5 365.5 121.5 366.5 121.5 368.5 120.5 369.5 121.5 371.5 120.5 373.5 121.5 374.5 120.5 376.5 120.5 377.5 120.5 379.5 120.5 381.5 119.5 382.5 120.5 384.5 120.5 386.5 120.5 387.5 119.5 389.5 120.5 390.5 119.5 392.5 120.5 394.5 119.5 395.5 119.5 397.5 119.5 399.5 119.5 400.5 119.5 402.5 118.5 403.5 118.5 405.5 117.5 407.5 118.5 408.5 118.5 410.5 117.5 412.5 117.5 413.5 118.5 415.5 117.5 416.5 117.5 418.5 117.5 420.5 116.5 421.5 116.5 423.5 116.5 424.5 116.5 426.5 115.5 428.5 116.5 429.5 116.5 431.5 116.5 433.5 115.5 434.5 115.5 436.5 115.5 437.5 115.5 439.5 115.5 441.5 114.5 442.5 114.5 444.5 114.5 446.5 114.5 447.5 114.5 449.5 114.5 450.5 113.5 452.5 114.5 454.5 113.5 455.5 112.5 457.5 113.5 458.5 112.5 460.5 112.5 462.5 111.5 463.5 111.5 465.5 111.5 467.5 111.5 468.5 111.5 470.5 111.5 471.5 111.5 473.5 110.5 475.5 110.5 476.5 110.5 478.5 109.5 480.5 109.5 481.5 110.5 483.5 108.5 484.5 108.5" marker-start="url(#rp)" marker-mid="url(#rp)" marker-end="url(#rp)"/><path d="M103.5 274.5 103.5 290.5 105.5 291.5 106.5 291.5 108.5 290.5 109.5 290.5 111.5 290.5 113.5 290.5 114.5 290.5 116.5 290.5 118.5 290.5 119.5 290.5 121.5 291.5 122.5 289.5 124.5 290.5 126.5 290.5 127.5 290.5 129.5 290.5 131.5 290.5 132.5 290.5 134.5 290.5 135.5 290.5 137.5 291.5 139.5 291.5 140.5 290.5 142.5 291.5 144.5 290.5 145.5 289.5 147.5 291.5 148.5 290.5 150.5 291.5 152.5 290.5 153.5 290.5 155.5 290.5 156.5 290.5 158.5 291.5 160.5 290.5 161.5 290.5 163.5 291.5 165.5 291.5 166.5 291.5 168.5 290.5 169.5 290.5 171.5 290.5 173.5 291.5 174.5 291.5 176.5 290.5 178.5 291.5 179.5 291.5 181.5 291.5 182.5 291.5 184.5 292.5 186.5 291.5 187.5 292.5 189.5 292.5 190.5 292.5 192.5 292.5 194.5 291.5 195.5 292.5 197.5 292.5 199.5 292.5 200.5 292.5 202.5 292.5 203.5 292.5 205.5 292.5 207.5 293.5 208.5 293.5 210.5 293.5 212.5 293.5 213.5 292.5 215.5 294.5 216.5 293.5 218.5 293.5 220.5 293.5 221.5 294.5 223.5 293.5 225.5 294.5 226.5 294.5 228.5 294.5 229.5 294.5 231.5 295.5 233.5 295.5 234.5 294.5 236.5 295.5 237.5 295.5 239.5 295.5 241.5 295.5 242.5 295.5 244.5 296.5 246.5 296.5 247.5 295.5 249.5 296.5 250.5 296.5 252.5 296.5 254.5 296.5 255.5 296.5 257.5 296.5 259.5 296.5 260.5 297.5 290.5 299.5 292.5 299.5 293.5 300.5 295.5 299.5 296.5 300.5 298.5 300.5 300.5 299.5 301.5 300.5 303.5 299.5 305.5 299.5 306.5 300.5 308.5 300.5 309.5 300.5 311.5 300.5 313.5 300.5 314.5 300.5 316.5 300.5 318.5 300.5 319.5 300.5 321.5 301.5 322.5 300.5 324.5 301.5 326.5 301.5 327.5 301.5 329.5 301.5 331.5 301.5 332.5 302.5 334.5 301.5 335.5 301.5 337.5 302.5 339.5 302.5 340.5 302.5 342.5 302.5 343.5 302.5 345.5 302.5 347.5 302.5 348.5 302.5 350.5 303.5 352.5 303.5 353.5 303.5 355.5 302.5 356.5 302.5 358.5 302.5 360.5 302.5 361.5 303.5 363.5 303.5 365.5 304.5 366.5 303.5 368.5 303.5 369.5 304.5 371.5 303.5 373.5 303.5 374.5 304.5 376.5 304.5 377.5 303.5 379.5 304.5 381.5 304.5 382.5 303.5 384.5 304.5 386.5 305.5 387.5 305.5 389.5 305.5 390.5 304.5 392.5 305.5 394.5 305.5 395.5 305.5 397.5 305.5 399.5 306.5 400.5 306.5 402.5 307.5 403.5 306.5 405.5 306.5 407.5 307.5 408.5 307.5 410.5 307.5 412.5 307.5 413.5 308.5 415.5 307.5 416.5 307.5 418.5 307.5 420.5 307.5 421.5 307.5 423.5 308.5 424.5 309.5 426.5 308.5 428.5 308.5 429.5 308.5 431.5 309.5 433.5 308.5 434.5 308.5 436.5 309.5 437.5 309.5 439.5 309.5 441.5 310.5 442.5 309.5 444.5 309.5 446.5 310.5 447.5 310.5 449.5 310.5 450.5 310.5 452.5 310.5 454.5 310.5 455.5 311.5 457.5 311.5 458.5 311.5 460.5 311.5 462.5 311.5 463.5 311.5 465.5 310.5 467.5 311.5 468.5 312.5 470.5 311.5 471.5 312.5 473.5 312.5 475.5 311.5 476.5 311.5 478.5 312.5 480.5 312.5 481.5 312.5 483.5 313.5 484.5 312.5" marker-start="url(#rp)" marker-mid="url(#rp)" marker-end="url(#rp)"/><path d="M103.5 529.5 105.5 528.5 106.5 527.5 108.5 529.5 109.5 528.5 111.5 529.5 113.5 528.5 114.5 528.5 116.5 528.5 118.5 527.5 119.5 527.5 121.5 527.5 122.5 527.5 124.5 527.5 126.5 528.5 127.5 528.5 129.5 529.5 131.5 529.5 132.5 528.5 134.5 528.5 135.5 527.5 137.5 528.5 139.5 527.5 140.5 527.5 142.5 527.5 144.5 527.5 145.5 528.5 147.5 527.5 148.5 527.5 150.5 527.5 152.5 528.5 153.5 527.5 155.5 527.5 156.5 528.5 158.5 528.5 160.5 527.5 161.5 527.5 163.5 527.5 165.5 528.5 166.5 527.5 168.5 527.5 169.5 526.5 171.5 527.5 173.5 528.5 174.5 527.5 176.5 528.5 178.5 526.5 179.5 527.5 181.5 526.5 182.5 527.5 184.5 527.5 186.5 528.5 187.5 527.5 189.5 527.5 190.5 526.5 192.5 527.5 194.5 527.5 195.5 527.5 197.5 527.5 199.5 527.5 200.5 526.5 202.5 527.5 203.5 527.5 205.5 526.5 207.5 527.5 208.5 527.5 210.5 526.5 212.5 526.5 213.5 526.5 215.5 527.5 216.5 527.5 218.5 524.5 220.5 526.5 221.5 527.5 223.5 526.5 225.5 525.5 226.5 526.5 228.5 526.5 229.5 526.5 231.5 525.5 233.5 526.5 234.5 526.5 236.5 526.5 237.5 527.5 239.5 526.5 241.5 525.5 242.5 524.5 244.5 526.5 246.5 526.5 247.5 526.5 249.5 525.5 250.5 526.5 252.5 525.5 254.5 526.5 255.5 526.5 257.5 526.5 259.5 526.5 260.5 525.5 290.5 526.5 292.5 527.5 293.5 525.5 295.5 526.5 296.5 526.5 298.5 527.5 300.5 526.5 301.5 527.5 303.5 526.5 305.5 526.5 306.5 526.5 308.5 526.5 309.5 526.5 311.5 527.5 313.5 527.5 314.5 527.5 316.5 526.5 318.5 527.5 319.5 527.5 321.5 527.5 322.5 527.5 324.5 526.5 326.5 527.5 327.5 526.5 329.5 526.5 331.5 526.5 332.5 527.5 334.5 527.5 335.5 527.5 337.5 526.5 339.5 527.5 340.5 526.5 342.5 526.5 343.5 527.5 345.5 528.5 347.5 527.5 348.5 526.5 350.5 528.5 352.5 528.5 353.5 527.5 355.5 527.5 356.5 527.5 358.5 529.5 360.5 527.5 361.5 528.5 363.5 527.5 365.5 526.5 366.5 527.5 368.5 526.5 369.5 527.5 371.5 527.5 373.5 528.5 374.5 527.5 376.5 527.5 377.5 527.5 379.5 527.5 381.5 529.5 382.5 528.5 384.5 528.5 386.5 528.5 387.5 527.5 389.5 528.5 390.5 527.5 392.5 528.5 394.5 528.5 395.5 528.5 397.5 527.5 399.5 529.5 400.5 528.5 402.5 528.5 403.5 529.5 405.5 528.5 407.5 529.5 408.5 529.5 410.5 529.5 412.5 529.5 413.5 527.5 415.5 529.5 416.5 528.5 418.5 527.5 420.5 528.5 421.5 528.5 423.5 528.5 424.5 528.5 426.5 528.5 428.5 529.5 429.5 529.5 431.5 528.5 433.5 529.5 434.5 529.5 436.5 529.5 437.5 529.5 439.5 529.5 441.5 529.5 442.5 528.5 444.5 529.5 446.5 529.5 447.5 529.5 449.5 529.5 450.5 529.5 452.5 529.5 454.5 530.5 455.5 529.5 457.5 529.5 458.5 530.5 460.5 529.5 462.5 529.5 463.5 530.5 465.5 530.5 467.5 530.5 468.5 530.5 470.5 530.5 471.5 530.5 473.5 529.5 475.5 530.5 476.5 531.5 478.5 531.5 480.5 531.5 481.5 531.5 483.5 531.5 484.5 531.5" marker-start="url(#rp)" marker-mid="url(#rp)" marker-end="url(#rp)"/><path d="M103.5 33.5 104.5 118.5 105.5 118.5 107.5 118.5 108.5 119.5 110.5 118.5 112.5 118.5 113.5 119.5 115.5 118.5 116.5 120.5 118.5 119.5 120.5 119.5 121.5 119.5 123.5 119.5 125.5 119.5 126.5 119.5 128.5 120.5 129.5 120.5 131.5 120.5 133.5 119.5 134.5 120.5 136.5 120.5 138.5 120.5 139.5 120.5 141.5 121.5 142.5 121.5 144.5 121.5 146.5 121.5 147.5 121.5 149.5 121.5 150.5 120.5 152.5 121.5 154.5 120.5 155.5 121.5 157.5 121.5 159.5 121.5 160.5 122.5 162.5 122.5 163.5 121.5 165.5 122.5 167.5 121.5 168.5 121.5 170.5 122.5 172.5 122.5 173.5 121.5 175.5 122.5 176.5 122.5 178.5 123.5 180.5 123.5 181.5 122.5 183.5 123.5 185.5 122.5 186.5 123.5 188.5 123.5 189.5 122.5 191.5 122.5 193.5 122.5 194.5 122.5 196.5 122.5 197.5 122.5 199.5 123.5 201.5 122.5 202.5 122.5 204.5 123.5 206.5 123.5 207.5 123.5 209.5 124.5 210.5 123.5 212.5 123.5 214.5 123.5 215.5 122.5 217.5 123.5 219.5 124.5 220.5 123.5 222.5 123.5 223.5 123.5 225.5 123.5 227.5 123.5 228.5 124.5 230.5 124.5 231.5 124.5 233.5 124.5 235.5 124.5 236.5 124.5 238.5 124.5 240.5 123.5 241.5 123.5 243.5 123.5 244.5 124.5 246.5 124.5 248.5 124.5 249.5 124.5 251.5 124.5 253.5 124.5 254.5 124.5 256.5 124.5 257.5 124.5 259.5 125.5 291.5 124.5 292.5 124.5 294.5 124.5 295.5 124.5 297.5 124.5 299.5 124.5 300.5 124.5 302.5 123.5 303.5 123.5 305.5 123.5 307.5 123.5 308.5 124.5 310.5 123.5 312.5 123.5 313.5 123.5 315.5 123.5 316.5 123.5 318.5 123.5 320.5 123.5 321.5 123.5 323.5 123.5 325.5 123.5 326.5 123.5 328.5 123.5 329.5 123.5 331.5 122.5 333.5 122.5 334.5 122.5 336.5 122.5 337.5 123.5 339.5 122.5 341.5 123.5 342.5 122.5 344.5 122.5 346.5 122.5 347.5 122.5 349.5 122.5 350.5 122.5 352.5 122.5 354.5 122.5 355.5 122.5 357.5 121.5 359.5 122.5 360.5 122.5 362.5 122.5 363.5 121.5 365.5 121.5 367.5 121.5 368.5 121.5 370.5 121.5 372.5 121.5 373.5 120.5 375.5 121.5 376.5 120.5 378.5 120.5 380.5 120.5 381.5 120.5 383.5 120.5 384.5 120.5 386.5 119.5 388.5 119.5 389.5 119.5 391.5 119.5 393.5 119.5 394.5 118.5 396.5 119.5 397.5 119.5 399.5 118.5 401.5 118.5 402.5 118.5 404.5 118.5 406.5 118.5 407.5 118.5 409.5 117.5 410.5 118.5 412.5 117.5 414.5 118.5 415.5 117.5 417.5 117.5 418.5 117.5 420.5 117.5 422.5 117.5 423.5 116.5 425.5 116.5 427.5 116.5 428.5 116.5 430.5 115.5 431.5 116.5 433.5 115.5 435.5 115.5 436.5 115.5 438.5 115.5 440.5 114.5 441.5 114.5 443.5 114.5 444.5 114.5 446.5 114.5 448.5 114.5 449.5 114.5 451.5 114.5 453.5 113.5 454.5 113.5 456.5 112.5 457.5 112.5 459.5 112.5 461.5 112.5 462.5 112.5 464.5 111.5 465.5 111.5 467.5 111.5 469.5 111.5 470.5 111.5 472.5 110.5 474.5 110.5 475.5 110.5 477.5 110.5 478.5 110.5 480.5 109.5 482.5 109.5 483.5 109.5 485.5 109.5" marker-start="url(#rd)" marker-mid="url(#rd)" marker-end="url(#rd)"/><path d="M103.5 274.5 104.5 290.5 105.5 290.5 107.5 291.5 108.5 291.5 110.5 291.5 112.5 290.5 113.5 290.5 115.5 290.5 116.5 290.5 118.5 290.5 120.5 290.5 121.5 291.5 123.5 290.5 125.5 290.5 126.5 290.5 128.5 290.5 129.5 290.5 131.5 290.5 133.5 290.5 134.5 291.5 136.5 289.5 138.5 290.5 139.5 290.5 141.5 290.5 142.5 291.5 144.5 290.5 146.5 290.5 147.5 291.5 149.5 289.5 150.5 290.5 152.5 289.5 154.5 290.5 155.5 290.5 157.5 290.5 159.5 291.5 160.5 290.5 162.5 291.5 163.5 291.5 165.5 291.5 167.5 291.5 168.5 290.5 170.5 291.5 172.5 290.5 173.5 291.5 175.5 291.5 176.5 291.5 178.5 291.5 180.5 292.5 181.5 292.5 183.5 291.5 185.5 291.5 186.5 292.5 188.5 291.5 189.5 291.5 191.5 292.5 193.5 292.5 194.5 293.5 196.5 293.5 197.5 292.5 199.5 292.5 201.5 292.5 202.5 292.5 204.5 293.5 206.5 293.5 207.5 293.5 209.5 293.5 210.5 293.5 212.5 293.5 214.5 293.5 215.5 294.5 217.5 293.5 219.5 293.5 220.5 294.5 222.5 294.5 223.5 294.5 225.5 294.5 227.5 295.5 228.5 294.5 230.5 294.5 231.5 294.5 233.5 294.5 235.5 295.5 236.5 295.5 238.5 295.5 240.5 295.5 241.5 295.5 243.5 296.5 244.5 295.5 246.5 295.5 248.5 295.5 249.5 296.5 251.5 296.5 253.5 296.5 254.5 296.5 256.5 296.5 257.5 295.5 259.5 297.5 291.5 299.5 292.5 300.5 294.5 300.5 295.5 299.5 297.5 299.5 299.5 299.5 300.5 299.5 302.5 300.5 303.5 300.5 305.5 299.5 307.5 300.5 308.5 301.5 310.5 300.5 312.5 300.5 313.5 300.5 315.5 300.5 316.5 300.5 318.5 301.5 320.5 301.5 321.5 300.5 323.5 300.5 325.5 301.5 326.5 301.5 328.5 302.5 329.5 301.5 331.5 301.5 333.5 302.5 334.5 302.5 336.5 301.5 337.5 301.5 339.5 302.5 341.5 302.5 342.5 302.5 344.5 302.5 346.5 302.5 347.5 302.5 349.5 302.5 350.5 302.5 352.5 303.5 354.5 303.5 355.5 303.5 357.5 303.5 359.5 303.5 360.5 302.5 362.5 303.5 363.5 303.5 365.5 303.5 367.5 304.5 368.5 303.5 370.5 303.5 372.5 304.5 373.5 303.5 375.5 304.5 376.5 304.5 378.5 304.5 380.5 304.5 381.5 304.5 383.5 303.5 384.5 305.5 386.5 304.5 388.5 304.5 389.5 304.5 391.5 305.5 393.5 305.5 394.5 304.5 396.5 306.5 397.5 306.5 399.5 306.5 401.5 306.5 402.5 306.5 404.5 306.5 406.5 307.5 407.5 306.5 409.5 307.5 410.5 307.5 412.5 308.5 414.5 307.5 415.5 307.5 417.5 307.5 418.5 308.5 420.5 308.5 422.5 308.5 423.5 309.5 425.5 308.5 427.5 308.5 428.5 308.5 430.5 309.5 431.5 309.5 433.5 309.5 435.5 310.5 436.5 310.5 438.5 309.5 440.5 309.5 441.5 309.5 443.5 310.5 444.5 309.5 446.5 310.5 448.5 310.5 449.5 310.5 451.5 310.5 453.5 310.5 454.5 310.5 456.5 311.5 457.5 310.5 459.5 310.5 461.5 311.5 462.5 311.5 464.5 311.5 465.5 311.5 467.5 311.5 469.5 311.5 470.5 312.5 472.5 311.5 474.5 312.5 475.5 312.5 477.5 312.5 478.5 311.5 480.5 312.5 482.5 312.5 483.5 312.5 485.5 312.5" marker-start="url(#rd)" marker-mid="url(#rd)" marker-end="url(#rd)"/><path d="M104.5 529.5 105.5 529.5 107.5 529.5 108.5 529.5 110.5 529.5 112.5 527.5 113.5 528.5 115.5 528.5 116.5 528.5 118.5 528.5 120.5 528.5 121.5 528.5 123.5 528.5 125.5 528.5 126.5 528.5 128.5 528.5 129.5 528.5 131.5 528.5 133.5 527.5 134.5 528.5 136.5 529.5 138.5 528.5 139.5 528.5 141.5 528.5 142.5 527.5 144.5 527.5 146.5 527.5 147.5 527.5 149.5 528.5 150.5 528.5 152.5 527.5 154.5 527.5 155.5 528.5 157.5 528.5 159.5 528.5 160.5 526.5 162.5 527.5 163.5 526.5 165.5 527.5 167.5 527.5 168.5 527.5 170.5 528.5 172.5 528.5 173.5 527.5 175.5 527.5 176.5 527.5 178.5 527.5 180.5 527.5 181.5 528.5 183.5 527.5 185.5 527.5 186.5 527.5 188.5 527.5 189.5 527.5 191.5 526.5 193.5 527.5 194.5 527.5 196.5 526.5 197.5 527.5 199.5 527.5 201.5 527.5 202.5 527.5 204.5 526.5 206.5 527.5 207.5 526.5 209.5 526.5 210.5 526.5 212.5 527.5 214.5 526.5 215.5 526.5 217.5 526.5 219.5 527.5 220.5 528.5 222.5 526.5 223.5 526.5 225.5 526.5 227.5 526.5 228.5 526.5 230.5 526.5 231.5 526.5 233.5 527.5 235.5 526.5 236.5 527.5 238.5 526.5 240.5 526.5 241.5 526.5 243.5 527.5 244.5 526.5 246.5 526.5 248.5 525.5 249.5 526.5 251.5 526.5 253.5 527.5 254.5 527.5 256.5 526.5 257.5 526.5 259.5 526.5 291.5 526.5 292.5 527.5 294.5 527.5 295.5 527.5 297.5 527.5 299.5 527.5 300.5 526.5 302.5 527.5 303.5 527.5 305.5 526.5 307.5 527.5 308.5 527.5 310.5 527.5 312.5 527.5 313.5 527.5 315.5 527.5 316.5 528.5 318.5 528.5 320.5 526.5 321.5 525.5 323.5 527.5 325.5 527.5 326.5 527.5 328.5 526.5 329.5 527.5 331.5 527.5 333.5 527.5 334.5 527.5 336.5 528.5 337.5 528.5 339.5 528.5 341.5 527.5 342.5 527.5 344.5 527.5 346.5 528.5 347.5 527.5 349.5 527.5 350.5 527.5 352.5 527.5 354.5 528.5 355.5 528.5 357.5 527.5 359.5 528.5 360.5 526.5 362.5 528.5 363.5 528.5 365.5 527.5 367.5 528.5 368.5 527.5 370.5 527.5 372.5 527.5 373.5 528.5 375.5 527.5 376.5 528.5 378.5 527.5 380.5 528.5 381.5 528.5 383.5 527.5 384.5 528.5 386.5 528.5 388.5 528.5 389.5 528.5 391.5 529.5 393.5 527.5 394.5 528.5 396.5 529.5 397.5 527.5 399.5 528.5 401.5 529.5 402.5 529.5 404.5 527.5 406.5 528.5 407.5 527.5 409.5 528.5 410.5 528.5 412.5 528.5 414.5 528.5 415.5 529.5 417.5 528.5 418.5 528.5 420.5 528.5 422.5 529.5 423.5 528.5 425.5 529.5 427.5 528.5 428.5 529.5 430.5 529.5 431.5 530.5 433.5 529.5 435.5 529.5 436.5 528.5 438.5 530.5 440.5 530.5 441.5 529.5 443.5 529.5 444.5 529.5 446.5 530.5 448.5 530.5 449.5 528.5 451.5 530.5 453.5 530.5 454.5 530.5 456.5 530.5 457.5 530.5 459.5 530.5 461.5 530.5 462.5 530.5 464.5 530.5 465.5 530.5 467.5 530.5 469.5 530.5 470.5 530.5 472.5 531.5 474.5 531.5 475.5 530.5 477.5 531.5 478.5 532.5 480.5 532.5 482.5 531.5 483.5 532.5 485.5 531.5" marker-start="url(#rd)" marker-mid="url(#rd)" marker-end="url(#rd)"/><path d="M103.5 33.5 103.5 118.5 105.5 119.5 106.5 118.5 108.5 118.5 109.5 118.5 111.5 118.5 113.5 118.5 114.5 119.5 116.5 118.5 118.5 119.5 119.5 119.5 121.5 119.5 122.5 119.5 124.5 120.5 126.5 120.5 127.5 119.5 129.5 120.5 131.5 120.5 132.5 120.5 134.5 120.5 135.5 119.5 137.5 120.5 139.5 120.5 140.5 120.5 142.5 120.5 144.5 120.5 145.5 121.5 147.5 120.5 148.5 121.5 150.5 121.5 152.5 121.5 153.5 121.5 155.5 122.5 156.5 120.5 158.5 121.5 160.5 121.5 161.5 121.5 163.5 121.5 165.5 122.5 166.5 122.5 168.5 121.5 169.5 122.5 171.5 122.5 173.5 122.5 174.5 121.5 176.5 122.5 178.5 123.5 179.5 123.5 181.5 123.5 182.5 122.5 184.5 122.5 186.5 122.5 187.5 123.5 189.5 122.5 190.5 123.5 192.5 122.5 194.5 122.5 195.5 123.5 197.5 123.5 199.5 123.5 200.5 122.5 202.5 123.5 203.5 124.5 205.5 122.5 207.5 122.5 208.5 123.5 210.5 123.5 212.5 123.5 213.5 123.5 215.5 123.5 216.5 123.5 218.5 123.5 220.5 123.5 221.5 124.5 223.5 123.5 225.5 124.5 226.5 123.5 228.5 124.5 229.5 124.5 231.5 124.5 233.5 123.5 234.5 123.5 236.5 124.5 237.5 124.5 239.5 124.5 241.5 124.5 242.5 123.5 244.5 123.5 246.5 124.5 247.5 124.5 249.5 124.5 250.5 123.5 252.5 124.5 254.5 124.5 255.5 124.5 257.5 125.5 259.5 124.5 260.5 124.5 290.5 124.5 292.5 124.5 293.5 124.5 295.5 124.5 296.5 124.5 298.5 123.5 300.5 124.5 301.5 124.5 303.5 123.5 305.5 123.5 306.5 123.5 308.5 124.5 309.5 123.5 311.5 124.5 313.5 123.5 314.5 123.5 316.5 123.5 318.5 123.5 319.5 123.5 321.5 123.5 322.5 123.5 324.5 123.5 326.5 123.5 327.5 123.5 329.5 123.5 331.5 123.5 332.5 122.5 334.5 123.5 335.5 122.5 337.5 123.5 339.5 122.5 340.5 122.5 342.5 122.5 343.5 122.5 345.5 122.5 347.5 122.5 348.5 122.5 350.5 121.5 352.5 121.5 353.5 122.5 355.5 121.5 356.5 122.5 358.5 121.5 360.5 121.5 361.5 122.5 363.5 122.5 365.5 121.5 366.5 121.5 368.5 121.5 369.5 120.5 371.5 120.5 373.5 121.5 374.5 121.5 376.5 120.5 377.5 120.5 379.5 120.5 381.5 120.5 382.5 120.5 384.5 120.5 386.5 119.5 387.5 120.5 389.5 120.5 390.5 120.5 392.5 119.5 394.5 118.5 395.5 119.5 397.5 118.5 399.5 119.5 400.5 118.5 402.5 118.5 403.5 118.5 405.5 118.5 407.5 118.5 408.5 117.5 410.5 118.5 412.5 117.5 413.5 117.5 415.5 117.5 416.5 117.5 418.5 117.5 420.5 116.5 421.5 117.5 423.5 117.5 424.5 116.5 426.5 116.5 428.5 116.5 429.5 115.5 431.5 116.5 433.5 115.5 434.5 115.5 436.5 115.5 437.5 115.5 439.5 114.5 441.5 115.5 442.5 114.5 444.5 114.5 446.5 113.5 447.5 114.5 449.5 114.5 450.5 114.5 452.5 113.5 454.5 113.5 455.5 113.5 457.5 113.5 458.5 112.5 460.5 112.5 462.5 112.5 463.5 112.5 465.5 111.5 467.5 110.5 468.5 112.5 470.5 110.5 471.5 110.5 473.5 110.5 475.5 111.5 476.5 110.5 478.5 109.5 480.5 109.5 481.5 109.5 483.5 108.5 484.5 109.5" marker-start="url(#kd)" marker-mid="url(#kd)" marker-end="url(#kd)"/><path d="M103.5 274.5 103.5 291.5 105.5 291.5 106.5 290.5 108.5 289.5 109.5 290.5 111.5 290.5 113.5 290.5 114.5 290.5 116.5 290.5 118.5 290.5 119.5 290.5 121.5 290.5 122.5 290.5 124.5 290.5 126.5 290.5 127.5 290.5 129.5 289.5 131.5 289.5 132.5 291.5 134.5 290.5 135.5 290.5 137.5 290.5 139.5 290.5 140.5 291.5 142.5 290.5 144.5 290.5 145.5 290.5 147.5 290.5 148.5 290.5 150.5 290.5 152.5 291.5 153.5 291.5 155.5 291.5 156.5 290.5 158.5 290.5 160.5 290.5 161.5 291.5 163.5 290.5 165.5 290.5 166.5 291.5 168.5 290.5 169.5 290.5 171.5 291.5 173.5 291.5 174.5 290.5 176.5 291.5 178.5 291.5 179.5 291.5 181.5 291.5 182.5 291.5 184.5 292.5 186.5 292.5 187.5 291.5 189.5 292.5 190.5 291.5 192.5 292.5 194.5 292.5 195.5 291.5 197.5 292.5 199.5 292.5 200.5 292.5 202.5 292.5 203.5 293.5 205.5 293.5 207.5 292.5 208.5 293.5 210.5 293.5 212.5 293.5 213.5 293.5 215.5 294.5 216.5 293.5 218.5 294.5 220.5 293.5 221.5 294.5 223.5 294.5 225.5 294.5 226.5 294.5 228.5 294.5 229.5 295.5 231.5 295.5 233.5 295.5 234.5 294.5 236.5 295.5 237.5 295.5 239.5 295.5 241.5 296.5 242.5 295.5 244.5 296.5 246.5 296.5 247.5 295.5 249.5 295.5 250.5 295.5 252.5 296.5 254.5 296.5 255.5 296.5 257.5 296.5 259.5 296.5 260.5 296.5 290.5 299.5 292.5 299.5 293.5 299.5 295.5 299.5 296.5 299.5 298.5 299.5 300.5 299.5 301.5 300.5 303.5 300.5 305.5 300.5 306.5 300.5 308.5 300.5 309.5 300.5 311.5 300.5 313.5 301.5 314.5 302.5 316.5 300.5 318.5 300.5 319.5 301.5 321.5 301.5 322.5 300.5 324.5 300.5 326.5 301.5 327.5 300.5 329.5 302.5 331.5 301.5 332.5 301.5 334.5 301.5 335.5 301.5 337.5 302.5 339.5 302.5 340.5 302.5 342.5 302.5 343.5 302.5 345.5 302.5 347.5 302.5 348.5 302.5 350.5 302.5 352.5 303.5 353.5 303.5 355.5 303.5 356.5 303.5 358.5 303.5 360.5 303.5 361.5 303.5 363.5 303.5 365.5 303.5 366.5 303.5 368.5 303.5 369.5 303.5 371.5 304.5 373.5 304.5 374.5 304.5 376.5 304.5 377.5 303.5 379.5 304.5 381.5 304.5 382.5 304.5 384.5 304.5 386.5 305.5 387.5 304.5 389.5 305.5 390.5 305.5 392.5 305.5 394.5 305.5 395.5 306.5 397.5 305.5 399.5 306.5 400.5 306.5 402.5 306.5 403.5 306.5 405.5 307.5 407.5 306.5 408.5 307.5 410.5 307.5 412.5 307.5 413.5 307.5 415.5 307.5 416.5 307.5 418.5 307.5 420.5 308.5 421.5 309.5 423.5 308.5 424.5 308.5 426.5 309.5 428.5 308.5 429.5 308.5 431.5 309.5 433.5 309.5 434.5 308.5 436.5 309.5 437.5 309.5 439.5 310.5 441.5 309.5 442.5 309.5 444.5 309.5 446.5 310.5 447.5 310.5 449.5 310.5 450.5 311.5 452.5 310.5 454.5 311.5 455.5 311.5 457.5 311.5 458.5 311.5 460.5 310.5 462.5 311.5 463.5 311.5 465.5 311.5 467.5 311.5 468.5 311.5 470.5 311.5 471.5 311.5 473.5 312.5 475.5 311.5 476.5 311.5 478.5 312.5 480.5 312.5 481.5 312.5 483.5 312.5 484.5 312.5" marker-start="url(#kd)" marker-mid="url(#kd)" marker-end="url(#kd)"/><path d="M103.5 531.5 105.5 531.5 106.5 532.5 108.5 533.5 109.5 532.5 111.5 532.5 113.5 532.5 114.5 532.5 116.5 531.5 118.5 531.5 119.5 532.5 121.5 531.5 122.5 532.5 124.5 531.5 126.5 530.5 127.5 532.5 129.5 532.5 131.5 531.5 132.5 531.5 134.5 531.5 135.5 531.5 137.5 532.5 139.5 532.5 140.5 531.5 142.5 532.5 144.5 531.5 145.5 532.5 147.5 531.5 148.5 532.5 150.5 531.5 152.5 531.5 153.5 531.5 155.5 531.5 156.5 531.5 158.5 530.5 160.5 530.5 161.5 532.5 163.5 531.5 165.5 531.5 166.5 530.5 168.5 530.5 169.5 532.5 171.5 531.5 173.5 531.5 174.5 531.5 176.5 530.5 178.5 530.5 179.5 531.5 181.5 530.5 182.5 530.5 184.5 531.5 186.5 531.5 187.5 530.5 189.5 530.5 190.5 530.5 192.5 531.5 194.5 530.5 195.5 530.5 197.5 530.5 199.5 531.5 200.5 530.5 202.5 530.5 203.5 530.5 205.5 530.5 207.5 530.5 208.5 530.5 210.5 530.5 212.5 530.5 213.5 529.5 215.5 530.5 216.5 530.5 218.5 530.5 220.5 529.5 221.5 531.5 223.5 530.5 225.5 530.5 226.5 530.5 228.5 529.5 229.5 529.5 231.5 529.5 233.5 530.5 234.5 530.5 236.5 529.5 237.5 529.5 239.5 529.5 241.5 530.5 242.5 529.5 244.5 529.5 246.5 529.5 247.5 530.5 249.5 529.5 250.5 528.5 252.5 529.5 254.5 530.5 255.5 529.5 257.5 530.5 259.5 529.5 260.5 529.5 290.5 528.5 292.5 529.5 293.5 530.5 295.5 530.5 296.5 530.5 298.5 531.5 300.5 529.5 301.5 530.5 303.5 530.5 305.5 529.5 306.5 530.5 308.5 530.5 309.5 530.5 311.5 529.5 313.5 530.5 314.5 529.5 316.5 530.5 318.5 530.5 319.5 529.5 321.5 530.5 322.5 530.5 324.5 530.5 326.5 530.5 327.5 530.5 329.5 531.5 331.5 530.5 332.5 531.5 334.5 530.5 335.5 531.5 337.5 530.5 339.5 530.5 340.5 530.5 342.5 531.5 343.5 531.5 345.5 530.5 347.5 532.5 348.5 531.5 350.5 530.5 352.5 531.5 353.5 530.5 355.5 531.5 356.5 531.5 358.5 530.5 360.5 531.5 361.5 530.5 363.5 531.5 365.5 530.5 366.5 531.5 368.5 530.5 369.5 531.5 371.5 531.5 373.5 532.5 374.5 531.5 376.5 530.5 377.5 531.5 379.5 531.5 381.5 530.5 382.5 532.5 384.5 531.5 386.5 531.5 387.5 531.5 389.5 532.5 390.5 531.5 392.5 532.5 394.5 531.5 395.5 531.5 397.5 532.5 399.5 531.5 400.5 531.5 402.5 531.5 403.5 532.5 405.5 532.5 407.5 531.5 408.5 532.5 410.5 533.5 412.5 532.5 413.5 532.5 415.5 532.5 416.5 532.5 418.5 531.5 420.5 532.5 421.5 532.5 423.5 533.5 424.5 531.5 426.5 532.5 428.5 532.5 429.5 532.5 431.5 533.5 433.5 532.5 434.5 533.5 436.5 532.5 437.5 532.5 439.5 532.5 441.5 532.5 442.5 532.5 444.5 532.5 446.5 533.5 447.5 532.5 449.5 532.5 450.5 532.5 452.5 532.5 454.5 533.5 455.5 532.5 457.5 533.5 458.5 532.5 460.5 532.5 462.5 533.5 463.5 533.5 465.5 533.5 467.5 533.5 468.5 533.5 470.5 533.5 471.5 533.5 473.5 533.5 475.5 533.5 476.5 533.5 478.5 533.5 480.5 534.5 481.5 533.5 483.5 534.5 484.5 534.5" marker-start="url(#kd)" marker-mid="url(#kd)" marker-end="url(#kd)"/></g><path d="M80 23.5h433M80 213.5h433M80 402.5h433M80 591.5h433M80.5 23v569M512.5 23v569M80 208.5h5M508 208.5h5M80 203.5h5M508 203.5h5M80 198.5h5M508 198.5h5M80 193.5h5M508 193.5h5M80 189.5h5M508 189.5h5M80 184.5h5M508 184.5h5M80 179.5h5M508 179.5h5M80 174.5h5M508 174.5h5M80 170.5h5M508 170.5h5M80 165.5h10M503 165.5h10M80 160.5h5M508 160.5h5M80 156.5h5M508 156.5h5M80 151.5h5M508 151.5h5M80 146.5h5M508 146.5h5M80 141.5h5M508 141.5h5M80 137.5h5M508 137.5h5M80 132.5h5M508 132.5h5M80 127.5h5M508 127.5h5M80 122.5h5M508 122.5h5M80 118.5h10M503 118.5h10M80 113.5h5M508 113.5h5M80 108.5h5M508 108.5h5M80 103.5h5M508 103.5h5M80 99.5h5M508 99.5h5M80 94.5h5M508 94.5h5M80 89.5h5M508 89.5h5M80 85.5h5M508 85.5h5M80 80.5h5M508 80.5h5M80 75.5h5M508 75.5h5M80 70.5h10M503 70.5h10M80 66.5h5M508 66.5h5M80 61.5h5M508 61.5h5M80 56.5h5M508 56.5h5M80 51.5h5M508 51.5h5M80 47.5h5M508 47.5h5M80 42.5h5M508 42.5h5M80 37.5h5M508 37.5h5M80 32.5h5M508 32.5h5M80 28.5h5M508 28.5h5M80 397.5h5M508 397.5h5M80 392.5h5M508 392.5h5M80 387.5h5M508 387.5h5M80 383.5h5M508 383.5h5M80 378.5h5M508 378.5h5M80 373.5h5M508 373.5h5M80 369.5h5M508 369.5h5M80 364.5h5M508 364.5h5M80 359.5h5M508 359.5h5M80 354.5h10M503 354.5h10M80 350.5h5M508 350.5h5M80 345.5h5M508 345.5h5M80 340.5h5M508 340.5h5M80 335.5h5M508 335.5h5M80 331.5h5M508 331.5h5M80 326.5h5M508 326.5h5M80 321.5h5M508 321.5h5M80 316.5h5M508 316.5h5M80 312.5h5M508 312.5h5M80 307.5h10M503 307.5h10M80 302.5h5M508 302.5h5M80 298.5h5M508 298.5h5M80 293.5h5M508 293.5h5M80 288.5h5M508 288.5h5M80 283.5h5M508 283.5h5M80 279.5h5M508 279.5h5M80 274.5h5M508 274.5h5M80 269.5h5M508 269.5h5M80 264.5h5M508 264.5h5M80 260.5h10M503 260.5h10M80 255.5h5M508 255.5h5M80 250.5h5M508 250.5h5M80 245.5h5M508 245.5h5M80 241.5h5M508 241.5h5M80 236.5h5M508 236.5h5M80 231.5h5M508 231.5h5M80 227.5h5M508 227.5h5M80 222.5h5M508 222.5h5M80 217.5h5M508 217.5h5M80 582.5h5M508 582.5h5M80 572.5h5M508 572.5h5M80 563.5h5M508 563.5h5M80 553.5h5M508 553.5h5M80 544.5h10M503 544.5h10M80 534.5h5M508 534.5h5M80 525.5h5M508 525.5h5M80 515.5h5M508 515.5h5M80 506.5h5M508 506.5h5M80 496.5h10M503 496.5h10M80 487.5h5M508 487.5h5M80 477.5h5M508 477.5h5M80 468.5h5M508 468.5h5M80 458.5h5M508 458.5h5M80 449.5h10M503 449.5h10M80 440.5h5M508 440.5h5M80 430.5h5M508 430.5h5M80 421.5h5M508 421.5h5M80 411.5h5M508 411.5h5M123.5 23v5M123.5 209v9M123.5 398v9M123.5 587v5M166.5 23v3M166.5 211v5M166.5 400v5M166.5 589v3M210.5 23v5M210.5 209v9M210.5 398v9M210.5 587v5M253.5 23v3M253.5 211v5M253.5 400v5M253.5 589v3M296.5 23v5M296.5 209v9M296.5 398v9M296.5 587v5M339.5 23v3M339.5 211v5M339.5 400v5M339.5 589v3M382.5 23v5M382.5 209v9M382.5 398v9M382.5 587v5M426.5 23v3M426.5 211v5M426.5 400v5M426.5 589v3M469.5 23v5M469.5 209v9M469.5 398v9M469.5 587v5" fill="none" stroke="#000" stroke-width="1"/><g stroke="none"><path d="M516 35h1v1h-1zM517 34h1v1h-1zM517 36h1v1h-1zM518 33h1v1h-1zM518 37h1v1h-1zM519 32h1v1h-1zM519 38h1v1h-1zM520 31h1v1h-1zM520 39h1v1h-1zM521 32h1v1h-1zM521 38h1v1h-1zM522 33h1v1h-1zM522 37h1v1h-1zM523 34h1v1h-1zM523 36h1v1h-1zM524 35h1v1h-1z" fill="#0000ff"/><path d="M516 47h9v1h-9zM520 43h1v9h-1z" fill="#0000ff"/><path d="M516 59h9v1h-9zM520 55h1v9h-1z" fill="#00ff00"/><path d="M516 67h1v1h-1zM516 75h1v1h-1zM517 68h1v1h-1zM517 74h1v1h-1zM518 69h1v1h-1zM518 73h1v1h-1zM519 70h1v1h-1zM519 72h1v1h-1zM520 71h1v1h-1zM521 70h1v1h-1zM521 72h1v1h-1zM522 69h1v1h-1zM522 73h1v1h-1zM523 68h1v1h-1zM523 74h1v1h-1zM524 67h1v1h-1zM524 75h1v1h-1z" fill="#00ff00"/><path d="M516 79h1v1h-1zM516 87h1v1h-1zM517 80h1v1h-1zM517 86h1v1h-1zM518 81h1v1h-1zM518 85h1v1h-1zM519 82h1v1h-1zM519 84h1v1h-1zM520 83h1v1h-1zM521 82h1v1h-1zM521 84h1v1h-1zM522 81h1v1h-1zM522 85h1v1h-1zM523 80h1v1h-1zM523 86h1v1h-1zM524 79h1v1h-1zM524 87h1v1h-1z" fill="#00ff00"/><path d="M516 95h9v1h-9zM520 91h1v9h-1z" fill="#ff0000"/><path d="M516 107h1v1h-1zM517 106h1v1h-1zM517 108h1v1h-1zM518 105h1v1h-1zM518 109h1v1h-1zM519 104h1v1h-1zM519 110h1v1h-1zM520 103h1v1h-1zM520 111h1v1h-1zM521 104h1v1h-1zM521 110h1v1h-1zM522 105h1v1h-1zM522 109h1v1h-1zM523 106h1v1h-1zM523 108h1v1h-1zM524 107h1v1h-1z" fill="#ff0000"/><path d="M516 119h1v1h-1zM517 118h1v1h-1zM517 120h1v1h-1zM518 117h1v1h-1zM518 121h1v1h-1zM519 116h1v1h-1zM519 122h1v1h-1zM520 115h1v1h-1zM520 123h1v1h-1zM521 116h1v1h-1zM521 122h1v1h-1zM522 117h1v1h-1zM522 121h1v1h-1zM523 118h1v1h-1zM523 120h1v1h-1zM524 119h1v1h-1z" fill="#000000"/></g></svg>
<div class="t" style="left:134.8px;top:4px;font-size:16px;-webkit-text-stroke-width:.25px;"><span style="left:-0.5px;letter-spacing:1.402px;">20250421</span> <span style="left:92px;transform:scaleX(0.9637);">CRPIX1</span> <span style="left:160.87px;transform:translateY(1px) skewX(-10deg) scaleY(1.36);transform-origin:50% 50%;">/</span> <span style="left:179px;letter-spacing:0.101px;">CRPIX2</span> <span style="left:247.62px;transform:translateY(1px) skewX(-10deg) scaleY(1.36);transform-origin:50% 50%;">/</span> <span style="left:266.2px;transform:scaleX(0.9015);">RADIUS</span></div>
<div class="t" style="left:44.2px;top:21px;font-size:14px;"><span style="left:-0.5px;letter-spacing:0.281px;">1200</span></div>
<div class="t" style="left:44.2px;top:64px;font-size:14px;"><span style="left:-0.5px;letter-spacing:0.63px;">1100</span></div>
<div class="t" style="left:44.2px;top:112px;font-size:14px;"><span style="left:-0.5px;letter-spacing:0.281px;">1000</span></div>
<div class="t" style="left:52.1px;top:159px;font-size:14px;"><span style="left:-0.5px;letter-spacing:0.37px;">900</span></div>
<div class="t" style="left:52.1px;top:202px;font-size:14px;"><span style="left:-0.5px;letter-spacing:0.37px;">800</span></div>
<div class="t" style="left:44.2px;top:211px;font-size:14px;"><span style="left:-0.5px;letter-spacing:0.281px;">1200</span></div>
<div class="t" style="left:44.2px;top:254px;font-size:14px;"><span style="left:-0.5px;letter-spacing:0.63px;">1100</span></div>
<div class="t" style="left:44.2px;top:301px;font-size:14px;"><span style="left:-0.5px;letter-spacing:0.281px;">1000</span></div>
<div class="t" style="left:52.1px;top:348px;font-size:14px;"><span style="left:-0.5px;letter-spacing:0.37px;">900</span></div>
<div class="t" style="left:52.1px;top:391px;font-size:14px;"><span style="left:-0.5px;letter-spacing:0.37px;">800</span></div>
<div class="t" style="left:44.2px;top:400px;font-size:14px;"><span style="left:-0.5px;letter-spacing:0.281px;">1000</span></div>
<div class="t" style="left:52.1px;top:443px;font-size:14px;"><span style="left:-0.5px;letter-spacing:0.37px;">950</span></div>
<div class="t" style="left:52.1px;top:490px;font-size:14px;"><span style="left:-0.5px;letter-spacing:0.37px;">900</span></div>
<div class="t" style="left:52.1px;top:538px;font-size:14px;"><span style="left:-0.5px;letter-spacing:0.37px;">850</span></div>
<div class="t" style="left:52.1px;top:580px;font-size:14px;"><span style="left:-0.5px;letter-spacing:0.37px;">800</span></div>
<div class="t" style="left:105.3px;top:598px;font-size:14px;"><span style="left:-0.5px;letter-spacing:0.638px;">00:00</span></div>
<div class="t" style="left:191.7px;top:598px;font-size:14px;"><span style="left:-0.5px;letter-spacing:0.638px;">02:00</span></div>
<div class="t" style="left:278.1px;top:598px;font-size:14px;"><span style="left:-0.5px;letter-spacing:0.638px;">04:00</span></div>
<div class="t" style="left:364.5px;top:598px;font-size:14px;"><span style="left:-0.5px;letter-spacing:0.638px;">06:00</span></div>
<div class="t" style="left:450.9px;top:598px;font-size:14px;"><span style="left:-0.5px;letter-spacing:0.638px;">08:00</span></div>
<div class="t" style="left:181.8px;top:614px;font-size:14px;"><span style="left:-0.5px;letter-spacing:0.68px;">Start</span> <span style="left:37.5px;letter-spacing:-0.165px;">Time</span> <span style="left:75.5px;letter-spacing:0.429px;">(20<i>-</i>Apr<i>-</i>25</span> <span style="left:164.6px;letter-spacing:0.729px;">23:00:00)</span></div>
<div class="t r" style="left:19px;top:166.3px;font-size:14px;"><span style="left:-0.5px;transform:scaleX(0.8956);">CRPIX1</span> <span style="left:54.2px;letter-spacing:0.504px;">[pixel]</span></div>
<div class="t r" style="left:19px;top:355.5px;font-size:14px;"><span style="left:-0.5px;transform:scaleX(0.8956);">CRPIX2</span> <span style="left:54.2px;letter-spacing:0.504px;">[pixel]</span></div>
<div class="t r" style="left:19px;top:543.4px;font-size:14px;"><span style="left:-0.5px;transform:scaleX(0.8449);">RADIUS</span> <span style="left:52.3px;letter-spacing:0.62px;">[pixel]</span></div>
<div class="t" style="left:537px;top:28px;font-size:14px;color:#0000ff;"><span style="left:-0.5px;letter-spacing:0.721px;"><i>-</i>0.08</span> <span style="left:46.5px;letter-spacing:0.719px;">short</span></div>
<div class="t" style="left:537px;top:40px;font-size:14px;color:#0000ff;"><span style="left:-0.5px;letter-spacing:0.721px;"><i>-</i>0.05</span> <span style="left:46.5px;letter-spacing:0.719px;">short</span></div>
<div class="t" style="left:537px;top:52px;font-size:14px;color:#00ff00;"><span style="left:-0.5px;letter-spacing:1.241px;">+0.00</span> <span style="left:46.5px;letter-spacing:0.719px;">short</span></div>
<div class="t" style="left:537px;top:64px;font-size:14px;color:#00ff00;"><span style="left:-0.5px;letter-spacing:1.241px;">+0.00</span> <span style="left:46.5px;letter-spacing:0.27px;">middle</span></div>
<div class="t" style="left:537px;top:76px;font-size:14px;color:#00ff00;"><span style="left:-0.5px;letter-spacing:1.241px;">+0.00</span> <span style="left:46.5px;letter-spacing:0.044px;">long</span></div>
<div class="t" style="left:537px;top:88px;font-size:14px;color:#ff0000;"><span style="left:-0.5px;letter-spacing:1.241px;">+0.05</span> <span style="left:46.5px;letter-spacing:0.719px;">short</span></div>
<div class="t" style="left:537px;top:100px;font-size:14px;color:#ff0000;"><span style="left:-0.5px;letter-spacing:1.241px;">+0.08</span> <span style="left:46.5px;letter-spacing:0.719px;">short</span></div>
<div class="t" style="left:537px;top:112px;font-size:14px;color:#000000;"><span style="left:-0.5px;letter-spacing:1.241px;">+0.35</span> <span style="left:46.5px;letter-spacing:0.719px;">short</span></div>
</body></html>
